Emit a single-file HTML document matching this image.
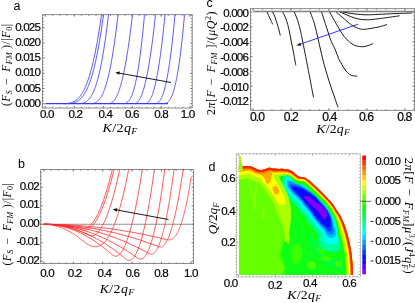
<!DOCTYPE html>
<html><head><meta charset="utf-8"><title>figure</title>
<style>html,body{margin:0;padding:0;background:#fff;overflow:hidden;}svg{display:block;will-change:transform;transform:translateZ(0);}</style>
</head><body>
<svg width="415" height="303" viewBox="0 0 415 303">
<rect width="415" height="303" fill="#fff"/>
<rect x="42.6" y="14.7" width="149.6" height="93.3" fill="none" stroke="#6e6e6e" stroke-width="0.8"/>
<path d="M45.4 108 v-2.2M45.4 14.7 v2.2M74.32 108 v-2.2M74.32 14.7 v2.2M103.24 108 v-2.2M103.24 14.7 v2.2M132.16 108 v-2.2M132.16 14.7 v2.2M161.08 108 v-2.2M161.08 14.7 v2.2M190 108 v-2.2M190 14.7 v2.2M45.4 108 v-1.3M45.4 14.7 v1.3M52.63 108 v-1.3M52.63 14.7 v1.3M59.86 108 v-1.3M59.86 14.7 v1.3M67.09 108 v-1.3M67.09 14.7 v1.3M74.32 108 v-1.3M74.32 14.7 v1.3M81.55 108 v-1.3M81.55 14.7 v1.3M88.78 108 v-1.3M88.78 14.7 v1.3M96.01 108 v-1.3M96.01 14.7 v1.3M103.24 108 v-1.3M103.24 14.7 v1.3M110.47 108 v-1.3M110.47 14.7 v1.3M117.7 108 v-1.3M117.7 14.7 v1.3M124.93 108 v-1.3M124.93 14.7 v1.3M132.16 108 v-1.3M132.16 14.7 v1.3M139.39 108 v-1.3M139.39 14.7 v1.3M146.62 108 v-1.3M146.62 14.7 v1.3M153.85 108 v-1.3M153.85 14.7 v1.3M161.08 108 v-1.3M161.08 14.7 v1.3M168.31 108 v-1.3M168.31 14.7 v1.3M175.54 108 v-1.3M175.54 14.7 v1.3M182.77 108 v-1.3M182.77 14.7 v1.3M190 108 v-1.3M190 14.7 v1.3M42.6 103.7 h2.2M192.2 103.7 h-2.2M42.6 88.5 h2.2M192.2 88.5 h-2.2M42.6 73.3 h2.2M192.2 73.3 h-2.2M42.6 58.1 h2.2M192.2 58.1 h-2.2M42.6 42.9 h2.2M192.2 42.9 h-2.2M42.6 27.7 h2.2M192.2 27.7 h-2.2M42.6 106.74 h1.3M192.2 106.74 h-1.3M42.6 103.7 h1.3M192.2 103.7 h-1.3M42.6 100.66 h1.3M192.2 100.66 h-1.3M42.6 97.62 h1.3M192.2 97.62 h-1.3M42.6 94.58 h1.3M192.2 94.58 h-1.3M42.6 91.54 h1.3M192.2 91.54 h-1.3M42.6 88.5 h1.3M192.2 88.5 h-1.3M42.6 85.46 h1.3M192.2 85.46 h-1.3M42.6 82.42 h1.3M192.2 82.42 h-1.3M42.6 79.38 h1.3M192.2 79.38 h-1.3M42.6 76.34 h1.3M192.2 76.34 h-1.3M42.6 73.3 h1.3M192.2 73.3 h-1.3M42.6 70.26 h1.3M192.2 70.26 h-1.3M42.6 67.22 h1.3M192.2 67.22 h-1.3M42.6 64.18 h1.3M192.2 64.18 h-1.3M42.6 61.14 h1.3M192.2 61.14 h-1.3M42.6 58.1 h1.3M192.2 58.1 h-1.3M42.6 55.06 h1.3M192.2 55.06 h-1.3M42.6 52.02 h1.3M192.2 52.02 h-1.3M42.6 48.98 h1.3M192.2 48.98 h-1.3M42.6 45.94 h1.3M192.2 45.94 h-1.3M42.6 42.9 h1.3M192.2 42.9 h-1.3M42.6 39.86 h1.3M192.2 39.86 h-1.3M42.6 36.82 h1.3M192.2 36.82 h-1.3M42.6 33.78 h1.3M192.2 33.78 h-1.3M42.6 30.74 h1.3M192.2 30.74 h-1.3M42.6 27.7 h1.3M192.2 27.7 h-1.3M42.6 24.66 h1.3M192.2 24.66 h-1.3M42.6 21.62 h1.3M192.2 21.62 h-1.3M42.6 18.58 h1.3M192.2 18.58 h-1.3M42.6 15.54 h1.3M192.2 15.54 h-1.3" fill="none" stroke="#6e6e6e" stroke-width="0.7"/>
<text x="40" y="106.7" font-family="Liberation Sans, sans-serif" font-size="11.6" text-anchor="end" letter-spacing="-0.85" fill="#000" stroke="#000" stroke-width="0.18">0.000</text>
<text x="40" y="91.5" font-family="Liberation Sans, sans-serif" font-size="11.6" text-anchor="end" letter-spacing="-0.85" fill="#000" stroke="#000" stroke-width="0.18">0.005</text>
<text x="40" y="76.3" font-family="Liberation Sans, sans-serif" font-size="11.6" text-anchor="end" letter-spacing="-0.85" fill="#000" stroke="#000" stroke-width="0.18">0.010</text>
<text x="40" y="61.1" font-family="Liberation Sans, sans-serif" font-size="11.6" text-anchor="end" letter-spacing="-0.85" fill="#000" stroke="#000" stroke-width="0.18">0.015</text>
<text x="40" y="45.9" font-family="Liberation Sans, sans-serif" font-size="11.6" text-anchor="end" letter-spacing="-0.85" fill="#000" stroke="#000" stroke-width="0.18">0.020</text>
<text x="40" y="30.7" font-family="Liberation Sans, sans-serif" font-size="11.6" text-anchor="end" letter-spacing="-0.85" fill="#000" stroke="#000" stroke-width="0.18">0.025</text>
<text x="46.7" y="118.2" font-family="Liberation Sans, sans-serif" font-size="11.6" text-anchor="middle" letter-spacing="-0.85" fill="#000" stroke="#000" stroke-width="0.18">0.0</text>
<text x="75.3" y="118.2" font-family="Liberation Sans, sans-serif" font-size="11.6" text-anchor="middle" letter-spacing="-0.85" fill="#000" stroke="#000" stroke-width="0.18">0.2</text>
<text x="105.2" y="118.2" font-family="Liberation Sans, sans-serif" font-size="11.6" text-anchor="middle" letter-spacing="-0.85" fill="#000" stroke="#000" stroke-width="0.18">0.4</text>
<text x="131.8" y="118.2" font-family="Liberation Sans, sans-serif" font-size="11.6" text-anchor="middle" letter-spacing="-0.85" fill="#000" stroke="#000" stroke-width="0.18">0.6</text>
<text x="161" y="118.2" font-family="Liberation Sans, sans-serif" font-size="11.6" text-anchor="middle" letter-spacing="-0.85" fill="#000" stroke="#000" stroke-width="0.18">0.8</text>
<text x="187.6" y="118.2" font-family="Liberation Sans, sans-serif" font-size="11.6" text-anchor="middle" letter-spacing="-0.85" fill="#000" stroke="#000" stroke-width="0.18">1.0</text>
<text x="13.6" y="9.6" font-family="Liberation Sans, sans-serif" font-size="12.5" fill="#000">a</text>
<text transform="translate(120.1,132) scale(1.1,1)" font-family="Liberation Serif, serif" font-size="12.8" text-anchor="middle" letter-spacing="0.35" fill="#000"><tspan font-style="italic">K</tspan>/2<tspan font-style="italic">q</tspan><tspan font-style="italic" font-size="8.96" dy="2.2">F</tspan></text>
<text transform="translate(9.5,64.8) rotate(-90)" font-family="Liberation Serif, serif" font-size="11.5" text-anchor="middle" letter-spacing="0.4" fill="#000">(<tspan font-style="italic">F</tspan><tspan font-style="italic" font-size="8" dy="2">S</tspan><tspan dy="-2" letter-spacing="2"> − </tspan><tspan font-style="italic">F</tspan><tspan font-style="italic" font-size="8" dy="2">FM</tspan><tspan dy="-2"> )/|</tspan><tspan font-style="italic">F</tspan><tspan font-size="8" dy="2">0</tspan><tspan dy="-2">|</tspan></text>
<clipPath id="ca"><rect x="42.6" y="14.7" width="149.6" height="93.3"/></clipPath>
<g clip-path="url(#ca)" fill="none" stroke="#3a3aff" stroke-width="0.85">
<path d="M62 103.6 L62.54 103.6 L63.08 103.6 L63.61 103.6 L64.15 103.59 L64.69 103.58 L65.23 103.57 L65.77 103.55 L66.3 103.53 L66.84 103.49 L67.38 103.45 L67.92 103.39 L68.46 103.33 L68.99 103.25 L69.53 103.15 L70.07 103.04 L70.61 102.91 L71.15 102.77 L71.68 102.6 L72.22 102.41 L72.76 102.2 L73.3 101.97 L73.84 101.7 L74.37 101.42 L74.91 101.1 L75.45 100.75 L75.99 100.37 L76.53 99.95 L77.06 99.51 L77.6 99.02 L78.14 98.5 L78.68 97.93 L79.22 97.33 L79.75 96.68 L80.29 95.99 L80.83 95.25 L81.37 94.47 L81.91 93.63 L82.44 92.75 L82.98 91.81 L83.52 90.81 L84.06 89.77 L84.59 88.66 L85.13 87.49 L85.67 86.27 L86.21 84.98 L86.75 83.62 L87.28 82.2 L87.82 80.72 L88.36 79.16 L88.9 77.53 L89.44 75.83 L89.97 74.05 L90.51 72.2 L91.05 70.27 L91.59 68.26 L92.13 66.17 L92.66 63.99 L93.2 61.73 L93.74 59.38 L94.28 56.94 L94.82 54.41 L95.35 51.79 L95.89 49.07 L96.43 46.26 L96.97 43.35 L97.51 40.34 L98.04 37.23 L98.58 34.02 L99.12 30.7 L99.66 27.27 L100.2 23.73 L100.73 20.09 L101.27 16.33 L101.81 12.45 L102.35 8.46 L102.89 4.35 L103.42 0.12 L103.96 -4.23 L104.5 -8.71"/>
<path d="M65 103.6 L65.53 103.6 L66.05 103.6 L66.58 103.6 L67.1 103.59 L67.63 103.59 L68.15 103.57 L68.68 103.56 L69.2 103.53 L69.73 103.5 L70.25 103.46 L70.78 103.41 L71.3 103.35 L71.83 103.27 L72.35 103.18 L72.88 103.08 L73.41 102.96 L73.93 102.82 L74.46 102.66 L74.98 102.48 L75.51 102.28 L76.03 102.05 L76.56 101.8 L77.08 101.52 L77.61 101.21 L78.13 100.87 L78.66 100.5 L79.18 100.1 L79.71 99.66 L80.23 99.19 L80.76 98.68 L81.28 98.13 L81.81 97.53 L82.34 96.9 L82.86 96.22 L83.39 95.49 L83.91 94.72 L84.44 93.89 L84.96 93.01 L85.49 92.09 L86.01 91.1 L86.54 90.06 L87.06 88.96 L87.59 87.8 L88.11 86.58 L88.64 85.29 L89.16 83.94 L89.69 82.52 L90.22 81.04 L90.74 79.48 L91.27 77.85 L91.79 76.14 L92.32 74.36 L92.84 72.49 L93.37 70.55 L93.89 68.53 L94.42 66.42 L94.94 64.22 L95.47 61.94 L95.99 59.57 L96.52 57.11 L97.04 54.55 L97.57 51.9 L98.09 49.14 L98.62 46.29 L99.15 43.34 L99.67 40.29 L100.2 37.12 L100.72 33.86 L101.25 30.48 L101.77 26.99 L102.3 23.39 L102.82 19.67 L103.35 15.83 L103.87 11.88 L104.4 7.8 L104.92 3.6 L105.45 -0.73 L105.97 -5.18 L106.5 -9.77"/>
<path d="M77.4 103.6 L77.83 103.6 L78.26 103.6 L78.69 103.59 L79.13 103.59 L79.56 103.57 L79.99 103.55 L80.42 103.53 L80.85 103.49 L81.28 103.44 L81.72 103.38 L82.15 103.31 L82.58 103.22 L83.01 103.11 L83.44 102.99 L83.87 102.85 L84.31 102.68 L84.74 102.5 L85.17 102.29 L85.6 102.05 L86.03 101.79 L86.46 101.5 L86.9 101.18 L87.33 100.83 L87.76 100.45 L88.19 100.04 L88.62 99.58 L89.05 99.1 L89.49 98.57 L89.92 98 L90.35 97.4 L90.78 96.75 L91.21 96.05 L91.64 95.31 L92.08 94.53 L92.51 93.69 L92.94 92.8 L93.37 91.87 L93.8 90.88 L94.23 89.83 L94.67 88.73 L95.1 87.57 L95.53 86.35 L95.96 85.08 L96.39 83.74 L96.82 82.33 L97.26 80.86 L97.69 79.33 L98.12 77.72 L98.55 76.05 L98.98 74.31 L99.41 72.49 L99.85 70.6 L100.28 68.63 L100.71 66.59 L101.14 64.47 L101.57 62.26 L102 59.98 L102.44 57.61 L102.87 55.16 L103.3 52.62 L103.73 50 L104.16 47.28 L104.59 44.48 L105.03 41.58 L105.46 38.59 L105.89 35.5 L106.32 32.31 L106.75 29.03 L107.18 25.65 L107.62 22.16 L108.05 18.58 L108.48 14.89 L108.91 11.09 L109.34 7.18 L109.77 3.17 L110.21 -0.95 L110.64 -5.19 L111.07 -9.54 L111.5 -14.01"/>
<path d="M90 103.6 L90.39 103.6 L90.78 103.6 L91.18 103.59 L91.57 103.57 L91.96 103.55 L92.35 103.51 L92.75 103.46 L93.14 103.4 L93.53 103.33 L93.92 103.23 L94.32 103.12 L94.71 102.99 L95.1 102.84 L95.49 102.66 L95.89 102.46 L96.28 102.24 L96.67 101.99 L97.06 101.71 L97.46 101.4 L97.85 101.06 L98.24 100.69 L98.63 100.28 L99.03 99.85 L99.42 99.37 L99.81 98.86 L100.2 98.31 L100.59 97.72 L100.99 97.09 L101.38 96.42 L101.77 95.71 L102.16 94.95 L102.56 94.15 L102.95 93.3 L103.34 92.4 L103.73 91.46 L104.13 90.47 L104.52 89.42 L104.91 88.32 L105.3 87.17 L105.7 85.97 L106.09 84.71 L106.48 83.39 L106.87 82.02 L107.27 80.59 L107.66 79.09 L108.05 77.54 L108.44 75.93 L108.84 74.25 L109.23 72.51 L109.62 70.7 L110.01 68.83 L110.41 66.89 L110.8 64.88 L111.19 62.8 L111.58 60.66 L111.97 58.44 L112.37 56.15 L112.76 53.79 L113.15 51.35 L113.54 48.83 L113.94 46.24 L114.33 43.58 L114.72 40.83 L115.11 38.01 L115.51 35.1 L115.9 32.12 L116.29 29.05 L116.68 25.9 L117.08 22.66 L117.47 19.34 L117.86 15.93 L118.25 12.44 L118.65 8.85 L119.04 5.18 L119.43 1.42 L119.82 -2.44 L120.22 -6.38 L120.61 -10.42 L121 -14.56"/>
<path d="M108.3 103.6 L108.64 103.6 L108.99 103.58 L109.33 103.55 L109.68 103.5 L110.02 103.43 L110.37 103.33 L110.71 103.22 L111.05 103.08 L111.4 102.91 L111.74 102.71 L112.09 102.49 L112.43 102.24 L112.78 101.95 L113.12 101.64 L113.46 101.29 L113.81 100.91 L114.15 100.49 L114.5 100.04 L114.84 99.56 L115.19 99.04 L115.53 98.48 L115.87 97.88 L116.22 97.25 L116.56 96.58 L116.91 95.87 L117.25 95.12 L117.6 94.33 L117.94 93.5 L118.28 92.62 L118.63 91.71 L118.97 90.75 L119.32 89.75 L119.66 88.7 L120.01 87.61 L120.35 86.48 L120.69 85.3 L121.04 84.08 L121.38 82.81 L121.73 81.49 L122.07 80.13 L122.42 78.72 L122.76 77.26 L123.11 75.76 L123.45 74.2 L123.79 72.6 L124.14 70.95 L124.48 69.25 L124.83 67.49 L125.17 65.69 L125.52 63.84 L125.86 61.93 L126.2 59.98 L126.55 57.97 L126.89 55.91 L127.24 53.8 L127.58 51.63 L127.93 49.41 L128.27 47.14 L128.61 44.81 L128.96 42.43 L129.3 39.99 L129.65 37.5 L129.99 34.96 L130.34 32.35 L130.68 29.7 L131.02 26.98 L131.37 24.21 L131.71 21.38 L132.06 18.5 L132.4 15.55 L132.75 12.55 L133.09 9.5 L133.43 6.38 L133.78 3.2 L134.12 -0.03 L134.47 -3.33 L134.81 -6.68 L135.16 -10.1 L135.5 -13.57"/>
<path d="M122.6 103.6 L122.92 103.6 L123.23 103.59 L123.55 103.58 L123.86 103.57 L124.18 103.54 L124.49 103.49 L124.81 103.44 L125.12 103.37 L125.44 103.28 L125.75 103.17 L126.07 103.04 L126.38 102.89 L126.7 102.71 L127.01 102.51 L127.33 102.29 L127.64 102.03 L127.96 101.75 L128.27 101.43 L128.59 101.08 L128.9 100.7 L129.22 100.29 L129.53 99.83 L129.85 99.34 L130.16 98.82 L130.48 98.25 L130.79 97.64 L131.11 96.99 L131.43 96.29 L131.74 95.55 L132.06 94.76 L132.37 93.93 L132.69 93.05 L133 92.12 L133.32 91.14 L133.63 90.1 L133.95 89.02 L134.26 87.87 L134.58 86.68 L134.89 85.43 L135.21 84.12 L135.52 82.75 L135.84 81.32 L136.15 79.83 L136.47 78.28 L136.78 76.67 L137.1 74.99 L137.41 73.25 L137.73 71.44 L138.04 69.56 L138.36 67.62 L138.67 65.61 L138.99 63.52 L139.31 61.37 L139.62 59.14 L139.94 56.84 L140.25 54.47 L140.57 52.02 L140.88 49.49 L141.2 46.89 L141.51 44.21 L141.83 41.45 L142.14 38.6 L142.46 35.68 L142.77 32.68 L143.09 29.59 L143.4 26.42 L143.72 23.16 L144.03 19.82 L144.35 16.38 L144.66 12.87 L144.98 9.26 L145.29 5.56 L145.61 1.77 L145.92 -2.11 L146.24 -6.08 L146.55 -10.15 L146.87 -14.31 L147.18 -18.57 L147.5 -22.92"/>
<path d="M134 103.6 L134.31 103.59 L134.62 103.57 L134.93 103.53 L135.24 103.46 L135.55 103.37 L135.86 103.25 L136.17 103.11 L136.48 102.93 L136.79 102.73 L137.1 102.5 L137.41 102.23 L137.72 101.93 L138.03 101.6 L138.34 101.23 L138.65 100.83 L138.96 100.39 L139.27 99.92 L139.58 99.41 L139.89 98.87 L140.2 98.29 L140.51 97.66 L140.82 97 L141.13 96.3 L141.44 95.57 L141.75 94.79 L142.06 93.97 L142.37 93.11 L142.68 92.21 L142.99 91.26 L143.3 90.28 L143.61 89.25 L143.92 88.18 L144.23 87.07 L144.54 85.91 L144.85 84.71 L145.16 83.46 L145.47 82.17 L145.78 80.84 L146.09 79.46 L146.41 78.03 L146.72 76.56 L147.03 75.05 L147.34 73.48 L147.65 71.87 L147.96 70.21 L148.27 68.51 L148.58 66.76 L148.89 64.95 L149.2 63.11 L149.51 61.21 L149.82 59.26 L150.13 57.27 L150.44 55.23 L150.75 53.13 L151.06 50.99 L151.37 48.8 L151.68 46.55 L151.99 44.26 L152.3 41.92 L152.61 39.52 L152.92 37.08 L153.23 34.58 L153.54 32.03 L153.85 29.43 L154.16 26.78 L154.47 24.07 L154.78 21.32 L155.09 18.51 L155.4 15.65 L155.71 12.73 L156.02 9.76 L156.33 6.74 L156.64 3.67 L156.95 0.54 L157.26 -2.65 L157.57 -5.88 L157.88 -9.18 L158.19 -12.52 L158.5 -15.92"/>
<path d="M144.7 103.6 L144.99 103.6 L145.29 103.58 L145.58 103.54 L145.88 103.49 L146.17 103.41 L146.47 103.32 L146.76 103.19 L147.06 103.04 L147.35 102.86 L147.65 102.65 L147.94 102.42 L148.24 102.15 L148.53 101.84 L148.83 101.51 L149.12 101.14 L149.42 100.74 L149.71 100.3 L150.01 99.82 L150.3 99.31 L150.6 98.76 L150.89 98.17 L151.19 97.54 L151.48 96.87 L151.78 96.16 L152.07 95.41 L152.37 94.62 L152.66 93.78 L152.96 92.91 L153.25 91.98 L153.55 91.02 L153.84 90.01 L154.14 88.95 L154.43 87.85 L154.73 86.71 L155.02 85.51 L155.32 84.27 L155.61 82.99 L155.91 81.65 L156.2 80.27 L156.5 78.83 L156.79 77.35 L157.09 75.82 L157.38 74.23 L157.68 72.6 L157.97 70.92 L158.27 69.18 L158.56 67.39 L158.86 65.55 L159.15 63.66 L159.45 61.71 L159.74 59.71 L160.04 57.66 L160.33 55.55 L160.63 53.39 L160.92 51.17 L161.22 48.9 L161.51 46.57 L161.81 44.19 L162.1 41.75 L162.4 39.25 L162.69 36.7 L162.99 34.09 L163.28 31.42 L163.58 28.69 L163.87 25.91 L164.17 23.06 L164.46 20.16 L164.76 17.2 L165.05 14.18 L165.35 11.1 L165.64 7.95 L165.94 4.75 L166.23 1.49 L166.53 -1.84 L166.82 -5.22 L167.12 -8.67 L167.41 -12.18 L167.71 -15.75 L168 -19.39"/>
<path d="M154.4 103.6 L154.7 103.6 L155 103.59 L155.3 103.57 L155.59 103.54 L155.89 103.49 L156.19 103.43 L156.49 103.35 L156.79 103.24 L157.09 103.12 L157.39 102.97 L157.69 102.79 L157.98 102.59 L158.28 102.36 L158.58 102.11 L158.88 101.82 L159.18 101.5 L159.48 101.14 L159.78 100.75 L160.08 100.33 L160.37 99.87 L160.67 99.38 L160.97 98.84 L161.27 98.27 L161.57 97.65 L161.87 97 L162.17 96.3 L162.47 95.56 L162.76 94.77 L163.06 93.94 L163.36 93.07 L163.66 92.14 L163.96 91.17 L164.26 90.15 L164.56 89.08 L164.86 87.96 L165.15 86.79 L165.45 85.57 L165.75 84.29 L166.05 82.96 L166.35 81.58 L166.65 80.14 L166.95 78.65 L167.25 77.1 L167.54 75.49 L167.84 73.82 L168.14 72.1 L168.44 70.31 L168.74 68.47 L169.04 66.56 L169.34 64.59 L169.64 62.56 L169.93 60.47 L170.23 58.31 L170.53 56.09 L170.83 53.8 L171.13 51.45 L171.43 49.03 L171.73 46.54 L172.03 43.99 L172.32 41.36 L172.62 38.67 L172.92 35.91 L173.22 33.08 L173.52 30.17 L173.82 27.19 L174.12 24.15 L174.42 21.02 L174.71 17.83 L175.01 14.56 L175.31 11.22 L175.61 7.8 L175.91 4.3 L176.21 0.73 L176.51 -2.92 L176.81 -6.65 L177.1 -10.46 L177.4 -14.34 L177.7 -18.31 L178 -22.35"/>
<path d="M163 103.6 L163.31 103.6 L163.62 103.59 L163.93 103.58 L164.24 103.57 L164.55 103.54 L164.86 103.49 L165.17 103.44 L165.48 103.37 L165.79 103.28 L166.1 103.17 L166.41 103.04 L166.72 102.89 L167.03 102.72 L167.34 102.52 L167.65 102.29 L167.96 102.03 L168.27 101.75 L168.58 101.43 L168.89 101.09 L169.2 100.7 L169.51 100.29 L169.82 99.83 L170.13 99.34 L170.44 98.81 L170.75 98.24 L171.06 97.63 L171.37 96.98 L171.68 96.28 L171.99 95.54 L172.3 94.75 L172.61 93.92 L172.92 93.03 L173.23 92.09 L173.54 91.11 L173.85 90.07 L174.16 88.98 L174.47 87.83 L174.78 86.63 L175.09 85.37 L175.41 84.06 L175.72 82.68 L176.03 81.24 L176.34 79.75 L176.65 78.19 L176.96 76.57 L177.27 74.88 L177.58 73.13 L177.89 71.31 L178.2 69.42 L178.51 67.46 L178.82 65.44 L179.13 63.34 L179.44 61.17 L179.75 58.93 L180.06 56.61 L180.37 54.22 L180.68 51.76 L180.99 49.21 L181.3 46.59 L181.61 43.89 L181.92 41.11 L182.23 38.24 L182.54 35.3 L182.85 32.27 L183.16 29.16 L183.47 25.96 L183.78 22.68 L184.09 19.31 L184.4 15.85 L184.71 12.3 L185.02 8.66 L185.33 4.93 L185.64 1.11 L185.95 -2.8 L186.26 -6.81 L186.57 -10.91 L186.88 -15.11 L187.19 -19.4 L187.5 -23.8"/>
<path d="M45.4 103.6 H168" stroke-width="1.2"/>
</g>
<path d="M171 82.5 L119.63 73.2" stroke="#000" stroke-width="0.9" fill="none"/>
<path d="M115.2 72.4 L119.93 71.53 L119.33 74.87 Z" fill="#000"/>
<rect x="40.7" y="169.6" width="152.9" height="94" fill="none" stroke="#6e6e6e" stroke-width="0.8"/>
<path d="M43.9 263.6 v-2.2M43.9 169.6 v2.2M73.3 263.6 v-2.2M73.3 169.6 v2.2M102.7 263.6 v-2.2M102.7 169.6 v2.2M132.1 263.6 v-2.2M132.1 169.6 v2.2M161.5 263.6 v-2.2M161.5 169.6 v2.2M190.9 263.6 v-2.2M190.9 169.6 v2.2M43.9 263.6 v-1.3M43.9 169.6 v1.3M51.25 263.6 v-1.3M51.25 169.6 v1.3M58.6 263.6 v-1.3M58.6 169.6 v1.3M65.95 263.6 v-1.3M65.95 169.6 v1.3M73.3 263.6 v-1.3M73.3 169.6 v1.3M80.65 263.6 v-1.3M80.65 169.6 v1.3M88 263.6 v-1.3M88 169.6 v1.3M95.35 263.6 v-1.3M95.35 169.6 v1.3M102.7 263.6 v-1.3M102.7 169.6 v1.3M110.05 263.6 v-1.3M110.05 169.6 v1.3M117.4 263.6 v-1.3M117.4 169.6 v1.3M124.75 263.6 v-1.3M124.75 169.6 v1.3M132.1 263.6 v-1.3M132.1 169.6 v1.3M139.45 263.6 v-1.3M139.45 169.6 v1.3M146.8 263.6 v-1.3M146.8 169.6 v1.3M154.15 263.6 v-1.3M154.15 169.6 v1.3M161.5 263.6 v-1.3M161.5 169.6 v1.3M168.85 263.6 v-1.3M168.85 169.6 v1.3M176.2 263.6 v-1.3M176.2 169.6 v1.3M183.55 263.6 v-1.3M183.55 169.6 v1.3M190.9 263.6 v-1.3M190.9 169.6 v1.3M40.7 261.25 h2.2M193.6 261.25 h-2.2M40.7 242.75 h2.2M193.6 242.75 h-2.2M40.7 224.25 h2.2M193.6 224.25 h-2.2M40.7 205.75 h2.2M193.6 205.75 h-2.2M40.7 187.25 h2.2M193.6 187.25 h-2.2M40.7 261.25 h1.3M193.6 261.25 h-1.3M40.7 257.55 h1.3M193.6 257.55 h-1.3M40.7 253.85 h1.3M193.6 253.85 h-1.3M40.7 250.15 h1.3M193.6 250.15 h-1.3M40.7 246.45 h1.3M193.6 246.45 h-1.3M40.7 242.75 h1.3M193.6 242.75 h-1.3M40.7 239.05 h1.3M193.6 239.05 h-1.3M40.7 235.35 h1.3M193.6 235.35 h-1.3M40.7 231.65 h1.3M193.6 231.65 h-1.3M40.7 227.95 h1.3M193.6 227.95 h-1.3M40.7 224.25 h1.3M193.6 224.25 h-1.3M40.7 220.55 h1.3M193.6 220.55 h-1.3M40.7 216.85 h1.3M193.6 216.85 h-1.3M40.7 213.15 h1.3M193.6 213.15 h-1.3M40.7 209.45 h1.3M193.6 209.45 h-1.3M40.7 205.75 h1.3M193.6 205.75 h-1.3M40.7 202.05 h1.3M193.6 202.05 h-1.3M40.7 198.35 h1.3M193.6 198.35 h-1.3M40.7 194.65 h1.3M193.6 194.65 h-1.3M40.7 190.95 h1.3M193.6 190.95 h-1.3M40.7 187.25 h1.3M193.6 187.25 h-1.3M40.7 183.55 h1.3M193.6 183.55 h-1.3M40.7 179.85 h1.3M193.6 179.85 h-1.3M40.7 176.15 h1.3M193.6 176.15 h-1.3M40.7 172.45 h1.3M193.6 172.45 h-1.3" fill="none" stroke="#6e6e6e" stroke-width="0.7"/>
<path d="M40.7 224.25 H193.6" stroke="#777" stroke-width="0.8"/>
<text x="38.8" y="263.95" font-family="Liberation Sans, sans-serif" font-size="11.6" text-anchor="end" letter-spacing="-0.85" fill="#000" stroke="#000" stroke-width="0.18">-0.02</text>
<text x="38.8" y="245.45" font-family="Liberation Sans, sans-serif" font-size="11.6" text-anchor="end" letter-spacing="-0.85" fill="#000" stroke="#000" stroke-width="0.18">-0.01</text>
<text x="38.8" y="226.95" font-family="Liberation Sans, sans-serif" font-size="11.6" text-anchor="end" letter-spacing="-0.85" fill="#000" stroke="#000" stroke-width="0.18">0.00</text>
<text x="38.8" y="208.45" font-family="Liberation Sans, sans-serif" font-size="11.6" text-anchor="end" letter-spacing="-0.85" fill="#000" stroke="#000" stroke-width="0.18">0.01</text>
<text x="38.8" y="189.95" font-family="Liberation Sans, sans-serif" font-size="11.6" text-anchor="end" letter-spacing="-0.85" fill="#000" stroke="#000" stroke-width="0.18">0.02</text>
<text x="47" y="276.6" font-family="Liberation Sans, sans-serif" font-size="11.6" text-anchor="middle" letter-spacing="-0.85" fill="#000" stroke="#000" stroke-width="0.18">0.0</text>
<text x="74.6" y="276.6" font-family="Liberation Sans, sans-serif" font-size="11.6" text-anchor="middle" letter-spacing="-0.85" fill="#000" stroke="#000" stroke-width="0.18">0.2</text>
<text x="104.4" y="276.6" font-family="Liberation Sans, sans-serif" font-size="11.6" text-anchor="middle" letter-spacing="-0.85" fill="#000" stroke="#000" stroke-width="0.18">0.4</text>
<text x="132.3" y="276.6" font-family="Liberation Sans, sans-serif" font-size="11.6" text-anchor="middle" letter-spacing="-0.85" fill="#000" stroke="#000" stroke-width="0.18">0.6</text>
<text x="161" y="276.6" font-family="Liberation Sans, sans-serif" font-size="11.6" text-anchor="middle" letter-spacing="-0.85" fill="#000" stroke="#000" stroke-width="0.18">0.8</text>
<text x="190.8" y="276.6" font-family="Liberation Sans, sans-serif" font-size="11.6" text-anchor="middle" letter-spacing="-0.85" fill="#000" stroke="#000" stroke-width="0.18">1.0</text>
<text x="18" y="167.6" font-family="Liberation Sans, sans-serif" font-size="12.5" fill="#000">b</text>
<text transform="translate(117.2,292.6) scale(1.1,1)" font-family="Liberation Serif, serif" font-size="12.6" text-anchor="middle" letter-spacing="0.4" fill="#000"><tspan font-style="italic">K</tspan>/2<tspan font-style="italic">q</tspan><tspan font-style="italic" font-size="8.82" dy="2.2">F</tspan></text>
<text transform="translate(10.9,224.2) rotate(-90)" font-family="Liberation Serif, serif" font-size="11.5" text-anchor="middle" letter-spacing="0.4" fill="#000">(<tspan font-style="italic">F</tspan><tspan font-style="italic" font-size="8" dy="2">S</tspan><tspan dy="-2" letter-spacing="2"> − </tspan><tspan font-style="italic">F</tspan><tspan font-style="italic" font-size="8" dy="2">FM</tspan><tspan dy="-2"> )/|</tspan><tspan font-style="italic">F</tspan><tspan font-size="8" dy="2">0</tspan><tspan dy="-2">|</tspan></text>
<clipPath id="cb"><rect x="40.7" y="169.6" width="152.9" height="94"/></clipPath>
<g clip-path="url(#cb)" fill="none" stroke="#ff2a2a" stroke-width="0.8">
<path d="M43.9 224.3 L44.88 224.3 L45.86 224.31 L46.85 224.32 L47.83 224.34 L48.81 224.37 L49.79 224.39 L50.77 224.43 L51.76 224.47 L52.74 224.51 L53.72 224.56 L54.7 224.62 L55.68 224.68 L56.66 224.75 L57.65 224.82 L58.63 224.89 L59.61 224.97 L60.59 225.06 L61.57 225.15 L62.56 225.25 L63.54 225.35 L64.52 225.46 L65.5 225.58 L66.48 225.69 L67.47 225.82 L68.45 225.95 L69.43 226.08 L70.41 226.22 L71.39 226.37 L72.37 226.52 L73.36 226.67 L74.34 226.83 L75.32 227 L76.3 227.17 L77.28 227.35 L78.27 227.53 L79.25 227.71 L80.23 227.91 L81.21 228.1 L82.19 228.31 L82.88 228.42 L83.56 228.46 L84.25 228.43 L84.94 228.34 L85.62 228.18 L86.31 227.96 L86.99 227.66 L87.68 227.3 L88.36 226.87 L89.05 226.38 L89.73 225.81 L90.42 225.18 L91.11 224.48 L91.79 223.72 L92.48 222.89 L93.16 221.99 L93.85 221.02 L94.53 219.98 L95.22 218.88 L95.9 217.71 L96.59 216.48 L97.28 215.17 L97.96 213.8 L98.65 212.36 L99.33 210.86 L100.02 209.28 L100.7 207.64 L101.39 205.94 L102.07 204.16 L102.76 202.32 L103.45 200.41 L104.13 198.43 L104.82 196.39 L105.5 194.27 L106.19 192.1 L106.87 189.85 L107.56 187.54 L108.24 185.15 L108.93 182.71 L109.62 180.19 L110.3 177.61 L110.99 174.96 L111.67 172.24 L112.36 169.45 L113.04 166.6 L113.73 163.68 L114.41 160.7"/>
<path d="M43.9 224.3 L44.88 224.3 L45.87 224.31 L46.85 224.33 L47.83 224.36 L48.81 224.39 L49.8 224.43 L50.78 224.48 L51.76 224.54 L52.74 224.6 L53.73 224.67 L54.71 224.75 L55.69 224.83 L56.67 224.92 L57.66 225.02 L58.64 225.13 L59.62 225.25 L60.6 225.37 L61.59 225.5 L62.57 225.63 L63.55 225.78 L64.54 225.93 L65.52 226.09 L66.5 226.25 L67.48 226.43 L68.47 226.61 L69.45 226.8 L70.43 226.99 L71.41 227.2 L72.4 227.41 L73.38 227.63 L74.36 227.85 L75.34 228.08 L76.33 228.32 L77.31 228.57 L78.29 228.83 L79.27 229.09 L80.26 229.36 L81.24 229.64 L82.22 229.92 L82.91 230.09 L83.59 230.19 L84.28 230.23 L84.96 230.21 L85.65 230.12 L86.34 229.96 L87.02 229.75 L87.71 229.46 L88.39 229.12 L89.08 228.7 L89.76 228.23 L90.45 227.69 L91.13 227.08 L91.82 226.41 L92.5 225.68 L93.19 224.88 L93.87 224.01 L94.56 223.08 L95.24 222.09 L95.93 221.03 L96.62 219.91 L97.3 218.73 L97.99 217.48 L98.67 216.16 L99.36 214.78 L100.04 213.34 L100.73 211.83 L101.41 210.25 L102.1 208.62 L102.78 206.91 L103.47 205.15 L104.15 203.31 L104.84 201.42 L105.52 199.46 L106.21 197.43 L106.9 195.34 L107.58 193.19 L108.27 190.97 L108.95 188.69 L109.64 186.34 L110.32 183.93 L111.01 181.45 L111.69 178.91 L112.38 176.3 L113.06 173.63 L113.75 170.9 L114.43 168.1 L115.12 165.23 L115.81 162.31"/>
<path d="M43.9 224.3 L45.04 224.31 L46.19 224.33 L47.33 224.36 L48.48 224.41 L49.62 224.48 L50.77 224.56 L51.91 224.65 L53.06 224.76 L54.2 224.88 L55.35 225.01 L56.49 225.16 L57.64 225.32 L58.78 225.5 L59.93 225.7 L61.07 225.9 L62.22 226.12 L63.36 226.36 L64.5 226.61 L65.65 226.87 L66.79 227.15 L67.94 227.44 L69.08 227.75 L70.23 228.07 L71.37 228.4 L72.52 228.75 L73.66 229.11 L74.81 229.49 L75.95 229.88 L77.1 230.29 L78.24 230.71 L79.39 231.14 L80.53 231.59 L81.68 232.05 L82.82 232.53 L83.97 233.02 L85.11 233.52 L86.25 234.04 L87.4 234.58 L88.54 235.13 L89.19 235.4 L89.84 235.61 L90.48 235.75 L91.13 235.82 L91.77 235.82 L92.42 235.76 L93.06 235.62 L93.71 235.41 L94.35 235.13 L95 234.79 L95.65 234.37 L96.29 233.88 L96.94 233.33 L97.58 232.71 L98.23 232.01 L98.87 231.25 L99.52 230.42 L100.16 229.51 L100.81 228.54 L101.46 227.5 L102.1 226.39 L102.75 225.21 L103.39 223.96 L104.04 222.65 L104.68 221.26 L105.33 219.8 L105.98 218.27 L106.62 216.68 L107.27 215.01 L107.91 213.28 L108.56 211.47 L109.2 209.6 L109.85 207.65 L110.49 205.64 L111.14 203.56 L111.79 201.41 L112.43 199.19 L113.08 196.9 L113.72 194.54 L114.37 192.11 L115.01 189.61 L115.66 187.04 L116.3 184.4 L116.95 181.69 L117.6 178.92 L118.24 176.07 L118.89 173.16 L119.53 170.17 L120.18 167.12 L120.82 163.99 L121.47 160.8"/>
<path d="M43.9 224.3 L44.83 224.31 L45.76 224.34 L46.69 224.39 L47.62 224.45 L48.55 224.54 L49.49 224.64 L50.42 224.76 L51.35 224.91 L52.28 225.07 L53.21 225.25 L54.14 225.45 L55.07 225.66 L56 225.9 L56.93 226.16 L57.86 226.43 L58.8 226.73 L59.73 227.04 L60.66 227.37 L61.59 227.72 L62.52 228.09 L63.45 228.48 L64.38 228.89 L65.31 229.31 L66.24 229.76 L67.17 230.22 L68.11 230.71 L69.04 231.21 L69.97 231.73 L70.9 232.27 L71.83 232.83 L72.76 233.41 L73.69 234 L74.62 234.62 L75.55 235.25 L76.48 235.91 L77.42 236.58 L78.35 237.27 L79.28 237.98 L80.21 238.71 L80.91 239.27 L81.61 239.83 L82.3 240.38 L83 240.93 L83.7 241.47 L84.4 241.99 L85.1 242.5 L85.79 242.99 L86.49 243.46 L87.19 243.91 L87.89 244.33 L88.59 244.72 L89.28 245.08 L89.98 245.41 L90.68 245.71 L91.38 245.97 L92.08 246.19 L92.77 246.38 L93.47 246.52 L94.17 246.62 L94.87 246.68 L95.57 246.69 L96.26 246.66 L96.96 246.57 L97.66 246.44 L98.36 246.25 L99.06 246.01 L99.75 245.72 L100.45 245.37 L101.15 244.96 L101.85 244.49 L102.55 243.96 L103.24 243.37 L103.94 242.72 L104.64 242 L105.34 241.22 L106.04 240.37 L106.73 239.45 L107.43 238.47 L108.13 237.41 L108.83 236.28 L109.53 235.08 L110.22 233.8 L110.92 232.45 L111.62 231.02 L112.32 229.51 L113.02 227.92 L113.71 226.26 L114.41 224.51 L115.11 222.68 L115.81 220.76 L116.51 218.76 L117.2 216.68 L117.9 214.5 L118.6 212.24 L119.3 209.89 L120 207.46 L120.69 204.92 L121.39 202.3 L122.09 199.58 L122.79 196.77 L123.49 193.87 L124.18 190.86 L124.88 187.76 L125.58 184.57 L126.28 181.27 L126.98 177.87 L127.67 174.37 L128.37 170.76 L129.07 167.06 L129.77 163.25"/>
<path d="M43.9 224.3 L45.65 224.32 L47.4 224.38 L49.14 224.48 L50.89 224.62 L52.64 224.8 L54.39 225.02 L56.13 225.28 L57.88 225.57 L59.63 225.91 L61.38 226.29 L63.13 226.71 L64.87 227.17 L66.62 227.66 L68.37 228.2 L70.12 228.78 L71.86 229.39 L73.61 230.05 L75.36 230.75 L77.11 231.48 L78.86 232.26 L80.6 233.08 L82.35 233.93 L84.1 234.83 L85.85 235.76 L87.59 236.74 L89.34 237.75 L91.09 238.81 L92.84 239.9 L94.59 241.04 L96.33 242.21 L98.08 243.43 L99.83 244.68 L101.58 245.97 L103.32 247.31 L105.07 248.68 L106.82 250.09 L108.57 251.54 L110.32 253.04 L112.06 254.57 L112.56 254.98 L113.06 255.33 L113.56 255.62 L114.05 255.85 L114.55 256.02 L115.05 256.13 L115.55 256.18 L116.05 256.17 L116.54 256.09 L117.04 255.96 L117.54 255.77 L118.04 255.51 L118.53 255.2 L119.03 254.82 L119.53 254.38 L120.03 253.89 L120.52 253.33 L121.02 252.71 L121.52 252.03 L122.02 251.29 L122.52 250.49 L123.01 249.63 L123.51 248.71 L124.01 247.73 L124.51 246.69 L125 245.59 L125.5 244.42 L126 243.2 L126.5 241.91 L126.99 240.57 L127.49 239.16 L127.99 237.7 L128.49 236.17 L128.98 234.58 L129.48 232.93 L129.98 231.23 L130.48 229.46 L130.98 227.63 L131.47 225.74 L131.97 223.79 L132.47 221.77 L132.97 219.7 L133.46 217.57 L133.96 215.38 L134.46 213.12 L134.96 210.81 L135.45 208.43 L135.95 206 L136.45 203.5 L136.95 200.94 L137.45 198.33 L137.94 195.65 L138.44 192.91 L138.94 190.11 L139.44 187.25 L139.93 184.33 L140.43 181.35 L140.93 178.31 L141.43 175.21 L141.92 172.05 L142.42 168.82 L142.92 165.54 L143.42 162.19"/>
<path d="M43.9 224.3 L46 224.32 L48.1 224.39 L50.19 224.51 L52.29 224.66 L54.39 224.87 L56.49 225.12 L58.59 225.42 L60.68 225.76 L62.78 226.15 L64.88 226.58 L66.98 227.06 L69.08 227.58 L71.17 228.15 L73.27 228.77 L75.37 229.43 L77.47 230.14 L79.57 230.89 L81.66 231.69 L83.76 232.53 L85.86 233.42 L87.96 234.36 L90.05 235.34 L92.15 236.36 L94.25 237.43 L96.35 238.55 L98.45 239.71 L100.54 240.92 L102.64 242.18 L104.74 243.48 L106.84 244.82 L108.94 246.21 L111.03 247.65 L113.13 249.13 L115.23 250.66 L117.33 252.23 L119.43 253.85 L121.52 255.51 L123.62 257.22 L125.72 258.98 L126.13 259.31 L126.54 259.6 L126.96 259.84 L127.37 260.04 L127.78 260.2 L128.19 260.31 L128.6 260.37 L129.01 260.4 L129.43 260.37 L129.84 260.3 L130.25 260.18 L130.66 260.02 L131.07 259.81 L131.49 259.55 L131.9 259.25 L132.31 258.9 L132.72 258.5 L133.13 258.06 L133.54 257.57 L133.96 257.03 L134.37 256.45 L134.78 255.81 L135.19 255.13 L135.6 254.41 L136.01 253.63 L136.43 252.81 L136.84 251.94 L137.25 251.02 L137.66 250.05 L138.07 249.04 L138.49 247.97 L138.9 246.86 L139.31 245.7 L139.72 244.5 L140.13 243.24 L140.54 241.94 L140.96 240.58 L141.37 239.18 L141.78 237.73 L142.19 236.24 L142.6 234.69 L143.02 233.09 L143.43 231.45 L143.84 229.76 L144.25 228.02 L144.66 226.22 L145.07 224.39 L145.49 222.5 L145.9 220.56 L146.31 218.57 L146.72 216.54 L147.13 214.45 L147.54 212.32 L147.96 210.14 L148.37 207.9 L148.78 205.62 L149.19 203.29 L149.6 200.91 L150.02 198.48 L150.43 196.01 L150.84 193.48 L151.25 190.9 L151.66 188.27 L152.07 185.6 L152.49 182.87 L152.9 180.1 L153.31 177.27 L153.72 174.4 L154.13 171.47 L154.55 168.5 L154.96 165.47 L155.37 162.4"/>
<path d="M43.9 224.3 L46.29 224.32 L48.69 224.39 L51.08 224.5 L53.48 224.65 L55.87 224.85 L58.27 225.09 L60.66 225.38 L63.05 225.71 L65.45 226.09 L67.84 226.51 L70.24 226.97 L72.63 227.48 L75.02 228.03 L77.42 228.62 L79.81 229.26 L82.21 229.95 L84.6 230.68 L87 231.45 L89.39 232.26 L91.78 233.13 L94.18 234.03 L96.57 234.98 L98.97 235.97 L101.36 237.01 L103.76 238.09 L106.15 239.21 L108.54 240.38 L110.94 241.6 L113.33 242.86 L115.73 244.16 L118.12 245.5 L120.51 246.89 L122.91 248.33 L125.3 249.81 L127.7 251.33 L130.09 252.89 L132.49 254.5 L134.88 256.16 L137.27 257.86 L137.61 258.09 L137.95 258.31 L138.29 258.5 L138.63 258.67 L138.97 258.81 L139.31 258.92 L139.65 259.01 L139.99 259.07 L140.33 259.1 L140.67 259.1 L141 259.07 L141.34 259.01 L141.68 258.92 L142.02 258.8 L142.36 258.64 L142.7 258.46 L143.04 258.24 L143.38 257.99 L143.72 257.71 L144.06 257.4 L144.4 257.05 L144.73 256.67 L145.07 256.26 L145.41 255.81 L145.75 255.33 L146.09 254.81 L146.43 254.26 L146.77 253.68 L147.11 253.06 L147.45 252.4 L147.79 251.71 L148.13 250.99 L148.47 250.22 L148.8 249.43 L149.14 248.59 L149.48 247.73 L149.82 246.82 L150.16 245.88 L150.5 244.9 L150.84 243.89 L151.18 242.83 L151.52 241.75 L151.86 240.62 L152.2 239.46 L152.53 238.26 L152.87 237.02 L153.21 235.75 L153.55 234.43 L153.89 233.08 L154.23 231.69 L154.57 230.27 L154.91 228.8 L155.25 227.3 L155.59 225.76 L155.93 224.18 L156.26 222.56 L156.6 220.9 L156.94 219.21 L157.28 217.47 L157.62 215.7 L157.96 213.89 L158.3 212.03 L158.64 210.14 L158.98 208.21 L159.32 206.24 L159.66 204.23 L160 202.18 L160.33 200.09 L160.67 197.96 L161.01 195.79 L161.35 193.58 L161.69 191.33 L162.03 189.04 L162.37 186.71 L162.71 184.34 L163.05 181.93 L163.39 179.48 L163.73 176.99 L164.06 174.46 L164.4 171.88 L164.74 169.27 L165.08 166.61 L165.42 163.92 L165.76 161.18"/>
<path d="M43.9 224.3 L46.6 224.32 L49.3 224.38 L52 224.47 L54.7 224.61 L57.4 224.78 L60.1 225 L62.8 225.25 L65.51 225.54 L68.21 225.87 L70.91 226.23 L73.61 226.64 L76.31 227.08 L79.01 227.57 L81.71 228.09 L84.41 228.65 L87.11 229.25 L89.81 229.89 L92.51 230.56 L95.21 231.28 L97.91 232.03 L100.61 232.82 L103.31 233.65 L106.02 234.52 L108.72 235.43 L111.42 236.38 L114.12 237.37 L116.82 238.39 L119.52 239.45 L122.22 240.55 L124.92 241.69 L127.62 242.87 L130.32 244.09 L133.02 245.35 L135.72 246.64 L138.42 247.98 L141.12 249.35 L143.82 250.76 L146.52 252.21 L149.23 253.7 L149.49 253.84 L149.75 253.96 L150.02 254.06 L150.28 254.15 L150.55 254.22 L150.81 254.26 L151.07 254.29 L151.34 254.3 L151.6 254.28 L151.87 254.25 L152.13 254.2 L152.39 254.12 L152.66 254.02 L152.92 253.91 L153.18 253.77 L153.45 253.61 L153.71 253.42 L153.98 253.22 L154.24 252.99 L154.5 252.74 L154.77 252.47 L155.03 252.18 L155.3 251.87 L155.56 251.53 L155.82 251.17 L156.09 250.79 L156.35 250.38 L156.62 249.96 L156.88 249.51 L157.14 249.03 L157.41 248.54 L157.67 248.02 L157.94 247.48 L158.2 246.91 L158.46 246.33 L158.73 245.72 L158.99 245.08 L159.26 244.43 L159.52 243.75 L159.78 243.04 L160.05 242.32 L160.31 241.57 L160.58 240.79 L160.84 239.99 L161.1 239.17 L161.37 238.33 L161.63 237.46 L161.9 236.57 L162.16 235.65 L162.42 234.71 L162.69 233.75 L162.95 232.76 L163.22 231.75 L163.48 230.72 L163.74 229.66 L164.01 228.57 L164.27 227.47 L164.53 226.34 L164.8 225.18 L165.06 224 L165.33 222.8 L165.59 221.57 L165.85 220.32 L166.12 219.04 L166.38 217.74 L166.65 216.41 L166.91 215.06 L167.17 213.69 L167.44 212.29 L167.7 210.87 L167.97 209.42 L168.23 207.95 L168.49 206.45 L168.76 204.93 L169.02 203.38 L169.29 201.81 L169.55 200.22 L169.81 198.59 L170.08 196.95 L170.34 195.28 L170.61 193.59 L170.87 191.87 L171.13 190.12 L171.4 188.35 L171.66 186.56 L171.93 184.74 L172.19 182.89 L172.45 181.03 L172.72 179.13 L172.98 177.21 L173.25 175.27 L173.51 173.3 L173.77 171.3 L174.04 169.29 L174.3 167.24 L174.56 165.17 L174.83 163.08 L175.09 160.96"/>
<path d="M43.9 224.3 L46.85 224.31 L49.79 224.36 L52.74 224.43 L55.68 224.54 L58.63 224.67 L61.58 224.83 L64.52 225.02 L67.47 225.25 L70.41 225.5 L73.36 225.78 L76.31 226.09 L79.25 226.43 L82.2 226.8 L85.14 227.2 L88.09 227.63 L91.04 228.09 L93.98 228.57 L96.93 229.09 L99.87 229.64 L102.82 230.22 L105.77 230.82 L108.71 231.46 L111.66 232.12 L114.6 232.82 L117.55 233.54 L120.5 234.3 L123.44 235.08 L126.39 235.9 L129.33 236.74 L132.28 237.61 L135.23 238.51 L138.17 239.45 L141.12 240.41 L144.07 241.4 L147.01 242.42 L149.96 243.47 L152.9 244.55 L155.85 245.66 L158.8 246.8 L159 246.87 L159.2 246.94 L159.41 246.99 L159.61 247.03 L159.81 247.07 L160.02 247.09 L160.22 247.1 L160.43 247.1 L160.63 247.08 L160.83 247.06 L161.04 247.02 L161.24 246.97 L161.44 246.91 L161.65 246.84 L161.85 246.76 L162.06 246.66 L162.26 246.56 L162.46 246.44 L162.67 246.31 L162.87 246.17 L163.07 246.01 L163.28 245.85 L163.48 245.67 L163.69 245.48 L163.89 245.27 L164.09 245.06 L164.3 244.83 L164.5 244.59 L164.7 244.34 L164.91 244.08 L165.11 243.8 L165.32 243.51 L165.52 243.21 L165.72 242.9 L165.93 242.57 L166.13 242.24 L166.33 241.89 L166.54 241.52 L166.74 241.15 L166.95 240.76 L167.15 240.36 L167.35 239.95 L167.56 239.53 L167.76 239.09 L167.96 238.64 L168.17 238.18 L168.37 237.7 L168.58 237.22 L168.78 236.72 L168.98 236.2 L169.19 235.68 L169.39 235.14 L169.59 234.59 L169.8 234.03 L170 233.45 L170.21 232.87 L170.41 232.27 L170.61 231.65 L170.82 231.03 L171.02 230.39 L171.22 229.74 L171.43 229.07 L171.63 228.4 L171.84 227.71 L172.04 227.01 L172.24 226.29 L172.45 225.56 L172.65 224.82 L172.86 224.07 L173.06 223.3 L173.26 222.52 L173.47 221.73 L173.67 220.93 L173.87 220.11 L174.08 219.28 L174.28 218.44 L174.49 217.58 L174.69 216.72 L174.89 215.83 L175.1 214.94 L175.3 214.03 L175.5 213.11 L175.71 212.18 L175.91 211.23 L176.12 210.28 L176.32 209.3 L176.52 208.32 L176.73 207.32 L176.93 206.31 L177.13 205.29 L177.34 204.25 L177.54 203.2 L177.75 202.14 L177.95 201.06 L178.15 199.98 L178.36 198.88 L178.56 197.76 L178.76 196.63 L178.97 195.49 L179.17 194.34 L179.38 193.17 L179.58 191.99 L179.78 190.8 L179.99 189.6 L180.19 188.38 L180.39 187.15 L180.6 185.9 L180.8 184.64 L181.01 183.37 L181.21 182.09 L181.41 180.79 L181.62 179.48 L181.82 178.16 L182.02 176.82 L182.23 175.47 L182.43 174.11 L182.64 172.74 L182.84 171.35 L183.04 169.94 L183.25 168.53 L183.45 167.1 L183.65 165.66 L183.86 164.21 L184.06 162.74 L184.27 161.26"/>
<path d="M43.9 224.3 L47.03 224.31 L50.16 224.34 L53.3 224.39 L56.43 224.46 L59.56 224.55 L62.69 224.66 L65.83 224.79 L68.96 224.94 L72.09 225.11 L75.22 225.3 L78.35 225.51 L81.49 225.74 L84.62 225.99 L87.75 226.26 L90.88 226.55 L94.02 226.86 L97.15 227.19 L100.28 227.54 L103.41 227.91 L106.54 228.29 L109.68 228.7 L112.81 229.13 L115.94 229.58 L119.07 230.05 L122.21 230.54 L125.34 231.05 L128.47 231.58 L131.6 232.13 L134.73 232.7 L137.87 233.29 L141 233.9 L144.13 234.53 L147.26 235.18 L150.4 235.84 L153.53 236.53 L156.66 237.24 L159.79 237.97 L162.92 238.72 L166.06 239.49 L166.22 239.53 L166.37 239.57 L166.53 239.6 L166.69 239.64 L166.85 239.67 L167.01 239.71 L167.16 239.74 L167.32 239.76 L167.48 239.79 L167.64 239.81 L167.8 239.83 L167.95 239.85 L168.11 239.87 L168.27 239.88 L168.43 239.89 L168.59 239.9 L168.74 239.9 L168.9 239.9 L169.06 239.89 L169.22 239.89 L169.38 239.87 L169.54 239.86 L169.69 239.84 L169.85 239.82 L170.01 239.79 L170.17 239.76 L170.33 239.72 L170.48 239.69 L170.64 239.64 L170.8 239.59 L170.96 239.54 L171.12 239.48 L171.27 239.42 L171.43 239.36 L171.59 239.28 L171.75 239.21 L171.91 239.13 L172.06 239.04 L172.22 238.95 L172.38 238.85 L172.54 238.75 L172.7 238.65 L172.86 238.53 L173.01 238.42 L173.17 238.29 L173.33 238.17 L173.49 238.03 L173.65 237.89 L173.8 237.75 L173.96 237.6 L174.12 237.44 L174.28 237.28 L174.44 237.11 L174.59 236.94 L174.75 236.76 L174.91 236.57 L175.07 236.38 L175.23 236.18 L175.38 235.98 L175.54 235.76 L175.7 235.55 L175.86 235.32 L176.02 235.09 L176.18 234.86 L176.33 234.61 L176.49 234.37 L176.65 234.11 L176.81 233.85 L176.97 233.58 L177.12 233.3 L177.28 233.02 L177.44 232.73 L177.6 232.43 L177.76 232.13 L177.91 231.82 L178.07 231.5 L178.23 231.17 L178.39 230.84 L178.55 230.5 L178.7 230.16 L178.86 229.8 L179.02 229.44 L179.18 229.07 L179.34 228.7 L179.5 228.31 L179.65 227.92 L179.81 227.52 L179.97 227.12 L180.13 226.7 L180.29 226.28 L180.44 225.85 L180.6 225.42 L180.76 224.97 L180.92 224.52 L181.08 224.06 L181.23 223.59 L181.39 223.11 L181.55 222.63 L181.71 222.14 L181.87 221.64 L182.02 221.13 L182.18 220.61 L182.34 220.09 L182.5 219.55 L182.66 219.01 L182.81 218.46 L182.97 217.9 L183.13 217.34 L183.29 216.76 L183.45 216.18 L183.61 215.59 L183.76 214.99 L183.92 214.38 L184.08 213.76 L184.24 213.13 L184.4 212.5 L184.55 211.85 L184.71 211.2 L184.87 210.54 L185.03 209.87 L185.19 209.19 L185.34 208.5 L185.5 207.8 L185.66 207.1 L185.82 206.38 L185.98 205.66 L186.13 204.92 L186.29 204.18 L186.45 203.43 L186.61 202.67 L186.77 201.9 L186.93 201.12 L187.08 200.33 L187.24 199.53 L187.4 198.72 L187.56 197.91 L187.72 197.08 L187.87 196.24 L188.03 195.4 L188.19 194.54 L188.35 193.68 L188.51 192.8 L188.66 191.92 L188.82 191.03 L188.98 190.12 L189.14 189.21 L189.3 188.29 L189.45 187.35 L189.61 186.41 L189.77 185.46 L189.93 184.5 L190.09 183.52 L190.25 182.54 L190.4 181.55 L190.56 180.55 L190.72 179.53 L190.88 178.51 L191.04 177.48 L191.19 176.43"/>
</g>
<path d="M168.5 219.5 L117.13 210.02" stroke="#000" stroke-width="0.9" fill="none"/>
<path d="M112.7 209.2 L117.43 208.35 L116.82 211.69 Z" fill="#000"/>
<rect x="250.4" y="8.7" width="164" height="101.6" fill="none" stroke="#6e6e6e" stroke-width="0.8"/>
<path d="M253 110.3 v-2.2M253 8.7 v2.2M290.96 110.3 v-2.2M290.96 8.7 v2.2M328.92 110.3 v-2.2M328.92 8.7 v2.2M366.88 110.3 v-2.2M366.88 8.7 v2.2M404.84 110.3 v-2.2M404.84 8.7 v2.2M253 110.3 v-1.3M253 8.7 v1.3M262.49 110.3 v-1.3M262.49 8.7 v1.3M271.98 110.3 v-1.3M271.98 8.7 v1.3M281.47 110.3 v-1.3M281.47 8.7 v1.3M290.96 110.3 v-1.3M290.96 8.7 v1.3M300.45 110.3 v-1.3M300.45 8.7 v1.3M309.94 110.3 v-1.3M309.94 8.7 v1.3M319.43 110.3 v-1.3M319.43 8.7 v1.3M328.92 110.3 v-1.3M328.92 8.7 v1.3M338.41 110.3 v-1.3M338.41 8.7 v1.3M347.9 110.3 v-1.3M347.9 8.7 v1.3M357.39 110.3 v-1.3M357.39 8.7 v1.3M366.88 110.3 v-1.3M366.88 8.7 v1.3M376.37 110.3 v-1.3M376.37 8.7 v1.3M385.86 110.3 v-1.3M385.86 8.7 v1.3M395.35 110.3 v-1.3M395.35 8.7 v1.3M404.84 110.3 v-1.3M404.84 8.7 v1.3M414.33 110.3 v-1.3M414.33 8.7 v1.3M250.4 12.2 h2.2M414.4 12.2 h-2.2M250.4 27 h2.2M414.4 27 h-2.2M250.4 41.8 h2.2M414.4 41.8 h-2.2M250.4 56.6 h2.2M414.4 56.6 h-2.2M250.4 71.4 h2.2M414.4 71.4 h-2.2M250.4 86.2 h2.2M414.4 86.2 h-2.2M250.4 101 h2.2M414.4 101 h-2.2M250.4 12.2 h1.3M414.4 12.2 h-1.3M250.4 15.9 h1.3M414.4 15.9 h-1.3M250.4 19.6 h1.3M414.4 19.6 h-1.3M250.4 23.3 h1.3M414.4 23.3 h-1.3M250.4 27 h1.3M414.4 27 h-1.3M250.4 30.7 h1.3M414.4 30.7 h-1.3M250.4 34.4 h1.3M414.4 34.4 h-1.3M250.4 38.1 h1.3M414.4 38.1 h-1.3M250.4 41.8 h1.3M414.4 41.8 h-1.3M250.4 45.5 h1.3M414.4 45.5 h-1.3M250.4 49.2 h1.3M414.4 49.2 h-1.3M250.4 52.9 h1.3M414.4 52.9 h-1.3M250.4 56.6 h1.3M414.4 56.6 h-1.3M250.4 60.3 h1.3M414.4 60.3 h-1.3M250.4 64 h1.3M414.4 64 h-1.3M250.4 67.7 h1.3M414.4 67.7 h-1.3M250.4 71.4 h1.3M414.4 71.4 h-1.3M250.4 75.1 h1.3M414.4 75.1 h-1.3M250.4 78.8 h1.3M414.4 78.8 h-1.3M250.4 82.5 h1.3M414.4 82.5 h-1.3M250.4 86.2 h1.3M414.4 86.2 h-1.3M250.4 89.9 h1.3M414.4 89.9 h-1.3M250.4 93.6 h1.3M414.4 93.6 h-1.3M250.4 97.3 h1.3M414.4 97.3 h-1.3M250.4 101 h1.3M414.4 101 h-1.3M250.4 104.7 h1.3M414.4 104.7 h-1.3M250.4 108.4 h1.3M414.4 108.4 h-1.3" fill="none" stroke="#6e6e6e" stroke-width="0.7"/>
<path d="M253.2 11.5 H414.4" stroke="#808080" stroke-width="1.6"/>
<text x="248" y="16.5" font-family="Liberation Sans, sans-serif" font-size="11.6" text-anchor="end" letter-spacing="-0.85" fill="#000" stroke="#000" stroke-width="0.18">0.000</text>
<text x="248" y="31.3" font-family="Liberation Sans, sans-serif" font-size="11.6" text-anchor="end" letter-spacing="-0.85" fill="#000" stroke="#000" stroke-width="0.18">-0.002</text>
<text x="248" y="46.1" font-family="Liberation Sans, sans-serif" font-size="11.6" text-anchor="end" letter-spacing="-0.85" fill="#000" stroke="#000" stroke-width="0.18">-0.004</text>
<text x="248" y="60.9" font-family="Liberation Sans, sans-serif" font-size="11.6" text-anchor="end" letter-spacing="-0.85" fill="#000" stroke="#000" stroke-width="0.18">-0.006</text>
<text x="248" y="75.7" font-family="Liberation Sans, sans-serif" font-size="11.6" text-anchor="end" letter-spacing="-0.85" fill="#000" stroke="#000" stroke-width="0.18">-0.008</text>
<text x="248" y="90.5" font-family="Liberation Sans, sans-serif" font-size="11.6" text-anchor="end" letter-spacing="-0.85" fill="#000" stroke="#000" stroke-width="0.18">-0.010</text>
<text x="248" y="105.3" font-family="Liberation Sans, sans-serif" font-size="11.6" text-anchor="end" letter-spacing="-0.85" fill="#000" stroke="#000" stroke-width="0.18">-0.012</text>
<text x="257" y="121.4" font-family="Liberation Sans, sans-serif" font-size="12.2" text-anchor="middle" letter-spacing="-0.95" fill="#000" stroke="#000" stroke-width="0.18">0.0</text>
<text x="290.9" y="121.4" font-family="Liberation Sans, sans-serif" font-size="12.2" text-anchor="middle" letter-spacing="-0.95" fill="#000" stroke="#000" stroke-width="0.18">0.2</text>
<text x="329.2" y="121.4" font-family="Liberation Sans, sans-serif" font-size="12.2" text-anchor="middle" letter-spacing="-0.95" fill="#000" stroke="#000" stroke-width="0.18">0.4</text>
<text x="366" y="121.4" font-family="Liberation Sans, sans-serif" font-size="12.2" text-anchor="middle" letter-spacing="-0.95" fill="#000" stroke="#000" stroke-width="0.18">0.6</text>
<text x="404.2" y="121.4" font-family="Liberation Sans, sans-serif" font-size="12.2" text-anchor="middle" letter-spacing="-0.95" fill="#000" stroke="#000" stroke-width="0.18">0.8</text>
<text x="206.4" y="7.2" font-family="Liberation Sans, sans-serif" font-size="12.5" fill="#000">c</text>
<text transform="translate(333.2,132.7) scale(1.1,1)" font-family="Liberation Serif, serif" font-size="12.6" text-anchor="middle" letter-spacing="0.15" fill="#000"><tspan font-style="italic">K</tspan>/2<tspan font-style="italic">q</tspan><tspan font-style="italic" font-size="8.82" dy="2.2">F</tspan></text>
<text transform="translate(214.8,63) rotate(-90)" font-family="Liberation Serif, serif" font-size="12" text-anchor="middle" letter-spacing="0.5" fill="#000">2<tspan font-style="italic">π</tspan>[<tspan font-style="italic">F</tspan><tspan letter-spacing="1.5"> − </tspan><tspan font-style="italic">F</tspan><tspan font-style="italic" font-size="8" dy="2">FM</tspan><tspan dy="-2"> ]/(</tspan><tspan font-style="italic">μQ</tspan><tspan font-size="8" dy="-4">2</tspan><tspan dy="4">)</tspan></text>
<g fill="none" stroke="#1a1a1a" stroke-width="1">
<path d="M267.1 12 C267.45 12.8 268.55 15.38 269.2 16.8 C269.85 18.22 270.43 19.25 271 20.5 C271.57 21.75 272.33 23.67 272.6 24.3"/>
<path d="M272.6 12 C273.05 13 274.35 15.38 275.3 18 C276.25 20.62 277.47 24.78 278.3 27.7 C279.13 30.62 279.97 34.2 280.3 35.5"/>
<path d="M282.7 12 C283.27 13.22 285.03 16.28 286.1 19.3 C287.17 22.32 288.25 26.48 289.1 30.1 C289.95 33.72 290.45 37.18 291.2 41 C291.95 44.82 292.83 48.93 293.6 53 C294.37 57.07 295.43 63.33 295.8 65.4"/>
<path d="M294.3 12 C294.93 13.62 297.05 18.48 298.1 21.7 C299.15 24.92 299.85 28.08 300.6 31.3 C301.35 34.52 301.58 35.92 302.6 41 C303.62 46.08 305.47 55.47 306.7 61.8 C307.93 68.13 308.87 73.08 310 79 C311.13 84.92 312.92 94.25 313.5 97.3"/>
<path d="M310.2 12 C310.92 14 313.2 19.58 314.5 24 C315.8 28.42 316.98 34.17 318 38.5 C319.02 42.83 319.57 45.63 320.6 50 C321.63 54.37 322.63 59.03 324.2 64.7 C325.77 70.37 327.68 76.87 330 84 C332.32 91.13 336.75 103.58 338.1 107.5"/>
<path d="M321.6 12 C322.45 14.63 325.15 23.05 326.7 27.8 C328.25 32.55 329.45 36.8 330.9 40.5 C332.35 44.2 334.12 47 335.4 50 C336.68 53 337.5 56.05 338.6 58.5 C339.7 60.95 340.77 62.62 342 64.7 C343.23 66.78 344.5 69.25 346 71 C347.5 72.75 349.1 74.33 351 75.2 C352.9 76.07 356.33 76.03 357.4 76.2"/>
<path d="M329.6 12 C330.82 14.15 334.47 20.82 336.9 24.9 C339.33 28.98 341.53 33.23 344.2 36.5 C346.87 39.77 350 42.8 352.9 44.5 C355.8 46.2 359.08 46.52 361.6 46.7 C364.12 46.88 366.07 46.13 368 45.6 C369.93 45.07 372.33 43.85 373.2 43.5"/>
<path d="M336.2 12 C337.28 12.93 340.17 15.45 342.7 17.6 C345.23 19.75 348.73 23.08 351.4 24.9 C354.07 26.72 356.52 27.77 358.7 28.5 C360.88 29.23 361.28 29.53 364.5 29.3 C367.72 29.07 374.25 27.9 378 27.1 C381.75 26.3 385.5 24.93 387 24.5"/>
<path d="M339.8 12 C341 12.5 344.33 13.93 347 15 C349.67 16.07 352.63 17.6 355.8 18.4 C358.97 19.2 362.3 19.73 366 19.8 C369.7 19.87 372.4 19.47 378 18.8 C383.6 18.13 396 16.3 399.6 15.8"/>
<path d="M342.7 12 C344.63 12.32 350.42 13.43 354.3 13.9 C358.18 14.37 362.05 14.72 366 14.8 C369.95 14.88 373.17 14.6 378 14.4 C382.83 14.2 389.32 13.83 395 13.6 C400.68 13.37 409.25 13.1 412.1 13"/>
</g>
<path d="M358 24.2 L300.75 44.03" stroke="#2020ff" stroke-width="0.9" fill="none"/>
<path d="M296.5 45.5 L300.2 42.42 L301.31 45.63 Z" fill="#101030"/>
<clipPath id="cd"><path d="M238.9 275.0 L238.9 155.4 L240.4 155.4 L242.4 166.9 C241.92 166.7 243.68 166.33 245 166.2 C246.32 166.07 247.78 165.8 249.2 166 C250.62 166.2 252.08 166.83 253.5 167.4 C254.92 167.97 256.28 168.97 257.7 169.4 C259.12 169.83 260.7 170.07 262 170 C263.3 169.93 264.35 169.38 265.5 169 C266.65 168.62 267.48 167.77 268.9 167.7 C270.32 167.63 272.32 168.4 274 168.6 C275.68 168.8 277.42 168.85 279 168.9 C280.58 168.95 282.08 168.82 283.5 168.9 C284.92 168.98 286.37 169.17 287.5 169.4 C288.63 169.63 289.3 169.83 290.3 170.3 C291.3 170.77 292.35 171.35 293.5 172.2 C294.65 173.05 296.2 174.63 297.2 175.4 C298.2 176.17 298.78 176.55 299.5 176.8 C300.22 177.05 300.75 176.83 301.5 176.9 C302.25 176.97 303.17 176.95 304 177.2 C304.83 177.45 305.63 177.83 306.5 178.4 C307.37 178.97 308.03 179.62 309.2 180.6 C310.37 181.58 312.08 183.02 313.5 184.3 C314.92 185.58 316.28 186.93 317.7 188.3 C319.12 189.67 320.57 191.07 322 192.5 C323.43 193.93 324.97 195.52 326.3 196.9 C327.63 198.28 328.85 199.48 330 200.8 C331.15 202.12 331.98 203.07 333.2 204.8 C334.42 206.53 336.13 209.4 337.3 211.2 C338.47 213 339.25 213.88 340.2 215.6 C341.15 217.32 342.13 219.52 343 221.5 C343.87 223.48 344.7 225.5 345.4 227.5 C346.1 229.5 346.63 231.5 347.2 233.5 C347.77 235.5 348.3 237.42 348.8 239.5 C349.3 241.58 349.77 243.75 350.2 246 C350.63 248.25 351.03 250.28 351.4 253 C351.77 255.72 352.17 259.72 352.4 262.3 C352.63 264.88 352.7 266.38 352.8 268.5 C352.9 270.62 352.97 273.92 353 275 Z"/></clipPath>
<g clip-path="url(#cd)">
<rect x="236" y="153" width="120" height="124" fill="#66ff00"/>
<path d="M279 170 C280.8 168.33 286.5 168.33 292 170 C297.5 171.67 304.67 174.33 312 180 C319.33 185.67 329.67 194.67 336 204 C342.33 213.33 346.83 223.67 350 236 C353.17 248.33 363.33 270.83 355 278 C346.67 285.17 312.07 279 300 279 C287.93 279 285.27 280 282.6 278 C279.93 276 284.57 270.58 284 267 C283.43 263.42 279.77 259.67 279.2 256.5 C278.63 253.33 279.75 251.92 280.6 248 C281.45 244.08 283.7 237.17 284.3 233 C284.9 228.83 283.52 226.17 284.2 223 C284.88 219.83 287.63 217.67 288.4 214 C289.17 210.33 289.3 205 288.8 201 C288.3 197 286.67 193.5 285.4 190 C284.13 186.5 282.27 183.33 281.2 180 C280.13 176.67 277.2 171.67 279 170Z" fill="#3cff00"/>
<path d="M281 171 C282.47 169.5 286.83 169.33 292 171 C297.17 172.67 304.67 175.33 312 181 C319.33 186.67 329.67 195.83 336 205 C342.33 214.17 346.83 223.83 350 236 C353.17 248.17 363.33 270.83 355 278 C346.67 285.17 311.73 279 300 279 C288.27 279 286.93 279.92 284.6 278 C282.27 276.08 286.53 271.08 286 267.5 C285.47 263.92 281.93 259.75 281.4 256.5 C280.87 253.25 281.97 251.83 282.8 248 C283.63 244.17 285.8 237.58 286.4 233.5 C287 229.42 285.73 226.75 286.4 223.5 C287.07 220.25 289.7 217.75 290.4 214 C291.1 210.25 291.1 205 290.6 201 C290.1 197 288.63 193.5 287.4 190 C286.17 186.5 284.27 183.17 283.2 180 C282.13 176.83 279.53 172.5 281 171Z" fill="#0cff14"/>
<path d="M309 226 C311.17 223.33 316.83 221.67 322 222 C327.17 222.33 335.5 224 340 228 C344.5 232 347.17 240.33 349 246 C350.83 251.67 351.17 257.67 351 262 C350.83 266.33 350.5 271 348 272 C345.5 273 340 269.67 336 268 C332 266.33 327.67 265 324 262 C320.33 259 316.5 254 314 250 C311.5 246 309.83 242 309 238 C308.17 234 306.83 228.67 309 226Z" fill="#00ff3c"/>
<path d="M293 246 C294.17 244.33 296.5 243.33 298 244 C299.5 244.67 301.5 247.67 302 250 C302.5 252.33 301.83 255.67 301 258 C300.17 260.33 298.42 263.33 297 264 C295.58 264.67 293.5 263.67 292.5 262 C291.5 260.33 290.92 256.67 291 254 C291.08 251.33 291.83 247.67 293 246Z" fill="#3cff00"/>
<path d="M307.5 262.5 C308.33 261.75 310.58 261.25 312 261.5 C313.42 261.75 315.5 262.83 316 264 C316.5 265.17 316 267.67 315 268.5 C314 269.33 311.33 269.42 310 269 C308.67 268.58 307.42 267.08 307 266 C306.58 264.92 306.67 263.25 307.5 262.5Z" fill="#50ff00"/>
<path d="M317.5 248 C317.83 246.83 320.5 246.25 322 246.5 C323.5 246.75 326 248.33 326.5 249.5 C327 250.67 326.08 252.83 325 253.5 C323.92 254.17 321.25 254.42 320 253.5 C318.75 252.58 317.17 249.17 317.5 248Z" fill="#3cff00"/>
<path d="M322 256 C322.83 255.17 326.33 254.67 328 255 C329.67 255.33 331.83 257 332 258 C332.17 259 330.5 260.67 329 261 C327.5 261.33 324.17 260.83 323 260 C321.83 259.17 321.17 256.83 322 256Z" fill="#3cff00"/>
<path d="M336 262 C336.5 261 339.17 260.33 340 261 C340.83 261.67 341.5 265 341 266 C340.5 267 337.83 267.67 337 267 C336.17 266.33 335.5 263 336 262Z" fill="#50ff00"/>
<path d="M279.96 168.14 L290.24 170.3 L293.42 172.64 L295.22 173.85 L296.66 174.59 L297.91 175.11 L299.01 175.59 L300.1 176.22 L301.19 176.95 L302.26 177.72 L303.29 178.49 L304.3 179.27 L305.3 180.08 L306.29 180.92 L307.25 181.71 L308.16 182.43 L309.04 183.08 L309.89 183.68 L310.72 184.26 L311.56 184.89 L312.4 185.54 L313.23 186.19 L314.05 186.83 L314.85 187.46 L315.63 188.08 L316.38 188.67 L317.14 189.28 L317.92 189.96 L318.73 190.69 L319.56 191.48 L320.43 192.33 L321.3 193.23 L322.13 194.12 L322.91 194.99 L323.65 195.82 L324.34 196.62 L325.02 197.38 L325.73 198.17 L326.49 199.01 L327.28 199.89 L328.08 200.79 L328.87 201.71 L329.63 202.61 L330.3 203.43 L330.96 204.24 L331.64 205.1 L332.35 206.02 L333.07 207.01 L333.76 208.06 L334.41 209.11 L335.04 210.2 L335.66 211.35 L336.27 212.55 L336.88 213.82 L337.49 215.15 L338.13 216.51 L338.75 217.85 L339.36 219.14 L339.94 220.39 L340.46 221.59 L341.01 222.8 L341.71 224.14 L342.51 225.65 L343.44 227.34 L344.63 229.39 L346.3 232.27 L348.57 237.11 L350.03 244.6 L348.25 252.67 L342.86 258.31 L335.85 259.85 L329.48 258.05 L324.13 253.98 L320.23 248.57 L318.17 244.29 L317.08 241.79 L316.34 240.39 L315.77 239.68 L315.28 239.34 L314.76 238.96 L314.14 238.24 L313.42 237.22 L312.62 236.03 L311.76 234.75 L310.86 233.49 L309.91 232.29 L308.9 231.06 L307.83 229.75 L306.75 228.38 L305.67 226.96 L304.61 225.44 L303.58 223.85 L302.65 222.36 L301.84 221.09 L301.15 220.06 L300.56 219.27 L300 218.68 L299.39 218.1 L298.7 217.39 L297.94 216.58 L297.13 215.63 L296.27 214.53 L295.38 213.32 L294.51 212.09 L293.7 210.96 L292.95 209.96 L292.26 209.1 L291.62 208.42 L291.02 207.87 L290.4 207.35 L289.74 206.79 L289.05 206.2 L288.35 205.58 L287.65 204.92 L286.99 204.38 L286.38 204.04 L285.74 203.68 L285.04 203.09 L284.29 202.23 L283.49 201.05 L282.76 199.91 L282.22 199.21 L281.64 198.4 L280.81 196.88 L279.38 193.99 L275.29 186.25Z" fill="#14ff00"/>
<path d="M282.44 172.14 L290.72 174.08 L293.35 176.06 L294.94 177.08 L296.27 177.72 L297.46 178.18 L298.51 178.6 L299.52 179.14 L300.54 179.78 L301.52 180.45 L302.48 181.13 L303.42 181.81 L304.34 182.53 L305.26 183.27 L306.15 183.98 L307.02 184.63 L307.86 185.23 L308.68 185.79 L309.49 186.35 L310.3 186.94 L311.11 187.55 L311.91 188.17 L312.7 188.78 L313.48 189.38 L314.24 189.97 L314.98 190.55 L315.72 191.14 L316.47 191.78 L317.24 192.47 L318.02 193.21 L318.83 194 L319.65 194.84 L320.44 195.69 L321.19 196.52 L321.92 197.34 L322.61 198.14 L323.3 198.92 L324.02 199.71 L324.77 200.55 L325.55 201.42 L326.34 202.31 L327.11 203.2 L327.84 204.07 L328.51 204.88 L329.15 205.67 L329.8 206.49 L330.46 207.36 L331.12 208.29 L331.77 209.26 L332.37 210.25 L332.96 211.29 L333.55 212.37 L334.11 213.49 L334.66 214.66 L335.2 215.85 L335.75 217.06 L336.29 218.25 L336.82 219.41 L337.31 220.54 L337.76 221.63 L338.23 222.72 L338.82 223.92 L339.51 225.25 L340.3 226.72 L341.32 228.49 L342.77 230.93 L344.76 234.98 L346.12 241.25 L344.75 248.02 L340.31 252.72 L334.48 253.95 L329.2 252.34 L324.81 248.82 L321.67 244.19 L320.07 240.55 L319.19 238.43 L318.56 237.22 L318.04 236.58 L317.54 236.24 L317.02 235.86 L316.43 235.19 L315.77 234.29 L315.05 233.23 L314.26 232.09 L313.42 230.94 L312.52 229.81 L311.53 228.63 L310.5 227.37 L309.44 226.05 L308.4 224.69 L307.39 223.27 L306.42 221.8 L305.54 220.4 L304.76 219.17 L304.06 218.12 L303.43 217.27 L302.81 216.57 L302.15 215.89 L301.42 215.12 L300.65 214.28 L299.84 213.33 L298.99 212.27 L298.14 211.11 L297.3 209.94 L296.5 208.84 L295.76 207.84 L295.05 206.96 L294.38 206.21 L293.73 205.58 L293.07 204.99 L292.37 204.36 L291.66 203.72 L290.94 203.07 L290.22 202.39 L289.54 201.81 L288.9 201.4 L288.22 200.97 L287.51 200.37 L286.78 199.56 L286.05 198.5 L285.39 197.48 L284.87 196.81 L284.33 196.07 L283.63 194.78 L282.5 192.49 L279.13 186.57Z" fill="#00ff46"/>
<path d="M284.06 174.75 L291.02 176.48 L293.31 178.19 L294.77 179.07 L296.04 179.63 L297.19 180.05 L298.21 180.43 L299.18 180.92 L300.14 181.49 L301.08 182.08 L302 182.69 L302.89 183.31 L303.78 183.96 L304.66 184.64 L305.52 185.29 L306.36 185.9 L307.18 186.47 L307.98 187.01 L308.78 187.55 L309.57 188.11 L310.37 188.7 L311.16 189.29 L311.93 189.88 L312.7 190.48 L313.45 191.05 L314.18 191.62 L314.91 192.2 L315.64 192.82 L316.39 193.48 L317.15 194.19 L317.93 194.95 L318.71 195.75 L319.48 196.57 L320.22 197.39 L320.94 198.2 L321.63 199 L322.33 199.79 L323.05 200.59 L323.81 201.43 L324.58 202.29 L325.36 203.17 L326.12 204.05 L326.84 204.9 L327.49 205.71 L328.13 206.49 L328.76 207.28 L329.39 208.12 L330.02 209.01 L330.64 209.94 L331.22 210.9 L331.79 211.9 L332.35 212.95 L332.88 214.03 L333.4 215.13 L333.89 216.25 L334.38 217.37 L334.86 218.48 L335.32 219.57 L335.74 220.63 L336.12 221.65 L336.52 222.67 L337.02 223.78 L337.59 224.99 L338.24 226.32 L339.08 227.88 L340.28 229.99 L341.96 233.41 L343.12 238.68 L342 244.36 L338.29 248.3 L333.41 249.33 L328.98 247.97 L325.31 245.01 L322.69 241.12 L321.33 238.06 L320.57 236.25 L319.99 235.2 L319.48 234.61 L318.98 234.26 L318.46 233.88 L317.89 233.27 L317.25 232.44 L316.56 231.48 L315.81 230.44 L315 229.37 L314.11 228.29 L313.14 227.15 L312.11 225.92 L311.07 224.64 L310.05 223.32 L309.06 221.96 L308.14 220.56 L307.28 219.23 L306.51 218.02 L305.8 216.96 L305.15 216.06 L304.51 215.3 L303.81 214.56 L303.07 213.75 L302.29 212.88 L301.48 211.93 L300.64 210.89 L299.8 209.77 L298.98 208.64 L298.19 207.56 L297.45 206.56 L296.73 205.66 L296.05 204.87 L295.38 204.19 L294.69 203.55 L293.98 202.88 L293.25 202.21 L292.53 201.53 L291.8 200.84 L291.11 200.23 L290.44 199.77 L289.75 199.29 L289.04 198.68 L288.33 197.9 L287.62 196.93 L287 196 L286.49 195.36 L285.96 194.65 L285.33 193.51 L284.37 191.59 L281.5 186.78Z" fill="#00ff96"/>
<path d="M318 238 C318.5 235.67 320.67 234.33 324 234 C327.33 233.67 334.92 234.67 338 236 C341.08 237.33 342.17 239.83 342.5 242 C342.83 244.17 342.08 247.42 340 249 C337.92 250.58 333.17 251.67 330 251.5 C326.83 251.33 323 250.25 321 248 C319 245.75 317.5 240.33 318 238Z" fill="#00ff96"/>
<path d="M285.74 177.46 L291.3 178.78 L293.26 180.15 L294.61 180.88 L295.82 181.36 L296.94 181.72 L297.94 182.05 L298.87 182.47 L299.8 182.97 L300.7 183.49 L301.59 184.02 L302.45 184.57 L303.31 185.15 L304.16 185.76 L305 186.35 L305.82 186.92 L306.63 187.46 L307.43 187.98 L308.22 188.5 L309 189.04 L309.79 189.61 L310.56 190.18 L311.33 190.75 L312.09 191.33 L312.83 191.9 L313.56 192.45 L314.28 193.02 L315.01 193.63 L315.73 194.27 L316.47 194.95 L317.23 195.68 L317.99 196.45 L318.74 197.25 L319.46 198.06 L320.18 198.87 L320.88 199.67 L321.57 200.46 L322.3 201.26 L323.06 202.1 L323.83 202.96 L324.6 203.83 L325.35 204.7 L326.05 205.55 L326.7 206.34 L327.33 207.12 L327.94 207.9 L328.55 208.71 L329.16 209.57 L329.74 210.48 L330.3 211.42 L330.84 212.4 L331.38 213.42 L331.88 214.47 L332.35 215.53 L332.79 216.59 L333.2 217.65 L333.59 218.69 L333.96 219.71 L334.3 220.71 L334.59 221.67 L334.9 222.63 L335.27 223.64 L335.7 224.74 L336.18 225.92 L336.81 227.27 L337.72 229.02 L339.01 231.76 L339.9 235.92 L338.99 240.36 L336.04 243.39 L332.2 244.07 L328.74 242.88 L325.91 240.41 L323.97 237.24 L323 234.77 L322.42 233.32 L321.93 232.45 L321.44 231.91 L320.95 231.57 L320.43 231.19 L319.88 230.63 L319.29 229.9 L318.66 229.06 L317.97 228.14 L317.21 227.17 L316.35 226.16 L315.4 225.06 L314.4 223.88 L313.38 222.64 L312.38 221.38 L311.44 220.1 L310.56 218.81 L309.75 217.56 L308.99 216.39 L308.28 215.31 L307.6 214.35 L306.91 213.5 L306.18 212.67 L305.4 211.8 L304.61 210.91 L303.8 209.96 L302.98 208.95 L302.16 207.88 L301.37 206.8 L300.59 205.75 L299.85 204.75 L299.12 203.82 L298.41 202.98 L297.7 202.23 L296.98 201.51 L296.24 200.79 L295.5 200.08 L294.75 199.37 L294.02 198.66 L293.31 198.01 L292.61 197.48 L291.89 196.95 L291.17 196.33 L290.48 195.59 L289.83 194.73 L289.26 193.91 L288.77 193.3 L288.26 192.65 L287.73 191.72 L287.02 190.33 L284.52 187.03Z" fill="#00fff0"/>
<path d="M322.5 236 C322.92 234.5 324.75 232.75 327 232.5 C329.25 232.25 334 233.33 336 234.5 C338 235.67 338.83 238 339 239.5 C339.17 241 338.5 242.67 337 243.5 C335.5 244.33 332.08 244.83 330 244.5 C327.92 244.17 325.75 242.92 324.5 241.5 C323.25 240.08 322.08 237.5 322.5 236Z" fill="#00fff0"/>
<path d="M287.14 179.72 L291.54 180.67 L293.23 181.76 L294.48 182.35 L295.65 182.76 L296.74 183.08 L297.72 183.37 L298.62 183.74 L299.52 184.17 L300.39 184.63 L301.25 185.1 L302.1 185.59 L302.93 186.11 L303.77 186.66 L304.59 187.21 L305.4 187.74 L306.2 188.25 L306.99 188.76 L307.77 189.26 L308.54 189.79 L309.32 190.33 L310.09 190.89 L310.85 191.45 L311.6 192.01 L312.34 192.57 L313.06 193.12 L313.78 193.68 L314.49 194.27 L315.21 194.89 L315.94 195.55 L316.67 196.26 L317.41 197.02 L318.14 197.8 L318.86 198.6 L319.57 199.4 L320.27 200.2 L320.97 201 L321.7 201.8 L322.46 202.64 L323.22 203.5 L323.99 204.36 L324.73 205.22 L325.43 206.06 L326.07 206.86 L326.69 207.62 L327.29 208.4 L327.88 209.19 L328.46 210.03 L329.01 210.91 L329.55 211.84 L330.08 212.8 L330.59 213.8 L331.06 214.82 L331.49 215.85 L331.87 216.87 L332.21 217.87 L332.51 218.86 L332.78 219.83 L333.01 220.78 L333.21 221.69 L333.4 222.58 L333.63 223.51 L333.87 224.5 L334.14 225.53 L334.5 226.64 L335.03 228 L335.8 229.97 L336.3 232.83 L335.58 235.83 L333.5 237.81 L330.83 238.18 L328.46 237.27 L326.55 235.51 L325.28 233.27 L324.63 231.55 L324.19 230.5 L323.76 229.83 L323.3 229.37 L322.8 229.02 L322.28 228.64 L321.76 228.14 L321.2 227.52 L320.61 226.81 L319.96 226.02 L319.23 225.16 L318.4 224.21 L317.47 223.16 L316.48 222.02 L315.48 220.83 L314.5 219.62 L313.59 218.42 L312.76 217.23 L311.97 216.05 L311.23 214.91 L310.51 213.83 L309.81 212.81 L309.08 211.87 L308.31 210.95 L307.52 210.04 L306.71 209.12 L305.9 208.17 L305.1 207.18 L304.3 206.16 L303.52 205.13 L302.76 204.11 L302.01 203.11 L301.28 202.16 L300.55 201.27 L299.81 200.45 L299.07 199.66 L298.31 198.89 L297.55 198.14 L296.79 197.39 L296.05 196.66 L295.33 195.98 L294.61 195.38 L293.87 194.79 L293.15 194.15 L292.47 193.47 L291.85 192.71 L291.33 192.01 L290.84 191.43 L290.36 190.83 L289.91 190.1 L289.39 189.19 L287.18 187.26Z" fill="#00beff"/>
<path d="M288.24 181.5 L291.74 182.26 L293.2 183.13 L294.37 183.62 L295.5 183.96 L296.57 184.24 L297.53 184.51 L298.41 184.83 L299.28 185.21 L300.13 185.61 L300.96 186.03 L301.79 186.48 L302.61 186.95 L303.42 187.45 L304.23 187.96 L305.02 188.45 L305.81 188.95 L306.6 189.44 L307.37 189.93 L308.14 190.44 L308.91 190.97 L309.67 191.51 L310.43 192.06 L311.17 192.61 L311.91 193.16 L312.63 193.71 L313.34 194.26 L314.05 194.83 L314.75 195.44 L315.46 196.08 L316.18 196.77 L316.91 197.51 L317.63 198.28 L318.34 199.07 L319.04 199.87 L319.74 200.67 L320.45 201.46 L321.18 202.27 L321.93 203.11 L322.7 203.97 L323.46 204.82 L324.19 205.68 L324.88 206.51 L325.52 207.3 L326.14 208.06 L326.73 208.82 L327.31 209.6 L327.87 210.42 L328.41 211.28 L328.93 212.18 L329.45 213.13 L329.95 214.11 L330.41 215.11 L330.82 216.1 L331.18 217.08 L331.48 218.04 L331.74 218.99 L331.96 219.92 L332.15 220.83 L332.29 221.7 L332.43 222.56 L332.58 223.43 L332.73 224.35 L332.89 225.28 L333.1 226.26 L333.43 227.39 L333.93 228.92 L334.23 231.06 L333.64 233.26 L332.08 234.71 L330.1 234.99 L328.32 234.33 L326.87 233.05 L325.89 231.41 L325.35 230.13 L324.94 229.32 L324.52 228.76 L324.06 228.33 L323.56 227.98 L323.04 227.6 L322.52 227.13 L321.97 226.57 L321.38 225.92 L320.73 225.2 L320.01 224.38 L319.18 223.46 L318.25 222.43 L317.27 221.31 L316.27 220.14 L315.3 218.96 L314.4 217.79 L313.58 216.64 L312.8 215.49 L312.07 214.36 L311.35 213.27 L310.64 212.24 L309.9 211.25 L309.12 210.31 L308.32 209.37 L307.51 208.44 L306.7 207.49 L305.9 206.52 L305.11 205.52 L304.33 204.5 L303.58 203.49 L302.83 202.5 L302.09 201.54 L301.35 200.63 L300.61 199.77 L299.86 198.96 L299.1 198.17 L298.33 197.39 L297.58 196.63 L296.83 195.89 L296.11 195.2 L295.38 194.56 L294.64 193.95 L293.92 193.31 L293.24 192.64 L292.63 191.94 L292.11 191.28 L291.63 190.71 L291.15 190.14 L290.73 189.49 L290.29 188.76 L288.5 187.37Z" fill="#0082ff"/>
<path d="M290.21 184.67 L292.07 184.94 L293.16 185.32 L294.2 185.57 L295.28 185.79 L296.32 185.99 L297.25 186.19 L298.1 186.42 L298.94 186.68 L299.76 186.97 L300.58 187.29 L301.38 187.63 L302.19 188.01 L302.99 188.42 L303.79 188.85 L304.59 189.29 L305.37 189.75 L306.15 190.21 L306.93 190.68 L307.7 191.16 L308.46 191.66 L309.22 192.18 L309.97 192.71 L310.72 193.24 L311.45 193.79 L312.17 194.32 L312.88 194.86 L313.58 195.42 L314.28 196 L314.98 196.62 L315.69 197.29 L316.4 198 L317.11 198.75 L317.81 199.53 L318.51 200.33 L319.22 201.13 L319.92 201.93 L320.65 202.74 L321.41 203.58 L322.17 204.43 L322.93 205.29 L323.66 206.13 L324.34 206.95 L324.98 207.74 L325.59 208.49 L326.17 209.25 L326.73 210.01 L327.28 210.8 L327.8 211.64 L328.32 212.53 L328.82 213.46 L329.31 214.42 L329.76 215.39 L330.15 216.35 L330.49 217.29 L330.75 218.21 L330.97 219.12 L331.14 220.01 L331.27 220.88 L331.36 221.72 L331.43 222.53 L331.49 223.35 L331.53 224.19 L331.56 225.02 L331.61 225.86 L331.7 226.73 L331.86 227.77 L331.91 229.07 L331.47 230.37 L330.49 231.22 L329.27 231.41 L328.16 231.08 L327.22 230.38 L326.54 229.46 L326.08 228.69 L325.67 228.15 L325.25 227.72 L324.79 227.33 L324.29 226.97 L323.77 226.6 L323.25 226.16 L322.69 225.66 L322.1 225.09 L321.45 224.43 L320.73 223.66 L319.91 222.77 L318.98 221.76 L318 220.66 L317 219.51 L316.03 218.35 L315.14 217.22 L314.32 216.1 L313.56 214.98 L312.82 213.86 L312.11 212.77 L311.38 211.71 L310.64 210.7 L309.85 209.72 L309.05 208.77 L308.24 207.82 L307.43 206.87 L306.63 205.91 L305.84 204.93 L305.07 203.93 L304.31 202.93 L303.57 201.94 L302.83 200.97 L302.09 200.04 L301.34 199.16 L300.58 198.32 L299.82 197.5 L299.06 196.7 L298.3 195.93 L297.56 195.18 L296.83 194.47 L296.11 193.8 L295.37 193.15 L294.64 192.51 L293.96 191.86 L293.36 191.22 L292.84 190.61 L292.36 190.06 L291.88 189.51 L291.47 188.94 L291.11 188.36 L290.24 187.52Z" fill="#003cff"/>
<path d="M291.9 187.4 C292.48 187.02 295.35 187.43 297 187.7 C298.65 187.97 300.22 188.38 301.8 189 C303.38 189.62 304.97 190.5 306.5 191.4 C308.03 192.3 309.55 193.33 311 194.4 C312.45 195.47 313.8 196.47 315.2 197.8 C316.6 199.13 317.97 200.8 319.4 202.4 C320.83 204 322.5 205.8 323.8 207.4 C325.1 209 326.2 210.32 327.2 212 C328.2 213.68 329.27 215.75 329.8 217.5 C330.33 219.25 330.43 221 330.4 222.5 C330.37 224 330.07 225.67 329.6 226.5 C329.13 227.33 328.37 227.58 327.6 227.5 C326.83 227.42 326.03 226.75 325 226 C323.97 225.25 322.93 224.55 321.4 223 C319.87 221.45 317.48 218.83 315.8 216.7 C314.12 214.57 312.85 212.25 311.3 210.2 C309.75 208.15 308.05 206.33 306.5 204.4 C304.95 202.47 303.5 200.37 302 198.6 C300.5 196.83 298.92 195.23 297.5 193.8 C296.08 192.37 294.43 191.07 293.5 190 C292.57 188.93 291.32 187.78 291.9 187.4Z" fill="#0a0aff"/>
<path d="M304.9 196.1 C305.75 195.92 308.1 196.1 309.7 196.9 C311.3 197.7 312.92 199.7 314.5 200.9 C316.08 202.1 317.75 203 319.2 204.1 C320.65 205.2 322.15 206.52 323.2 207.5 C324.25 208.48 324.88 209 325.5 210 C326.12 211 326.77 212.25 326.9 213.5 C327.03 214.75 326.7 216.5 326.3 217.5 C325.9 218.5 325.13 219.42 324.5 219.5 C323.87 219.58 323.28 218.95 322.5 218 C321.72 217.05 320.88 215.22 319.8 213.8 C318.72 212.38 317.13 210.72 316 209.5 C314.87 208.28 314.05 207.5 313 206.5 C311.95 205.5 310.78 204.5 309.7 203.5 C308.62 202.5 307.35 201.42 306.5 200.5 C305.65 199.58 304.87 198.73 304.6 198 C304.33 197.27 304.05 196.28 304.9 196.1Z" fill="#8200ff"/>
<path d="M252 170 C253.5 168.83 259 171 262 171 C265 171 267.5 169.83 270 170 C272.5 170.17 275.33 170.5 277 172 C278.67 173.5 278.83 176.5 280 179 C281.17 181.5 282.67 184.17 284 187 C285.33 189.83 286.92 192.67 288 196 C289.08 199.33 290 203.33 290.5 207 C291 210.67 291.17 214.17 291 218 C290.83 221.83 290.08 226.17 289.5 230 C288.92 233.83 288.25 239.17 287.5 241 C286.75 242.83 285.58 242.83 285 241 C284.42 239.17 284.67 233.33 284 230 C283.33 226.67 282.17 224 281 221 C279.83 218 278.17 214.83 277 212 C275.83 209.17 275.17 206.5 274 204 C272.83 201.5 271.5 199.33 270 197 C268.5 194.67 266.83 192.33 265 190 C263.17 187.67 261 185 259 183 C257 181 254.17 180.17 253 178 C251.83 175.83 250.5 171.17 252 170Z" fill="#aaff00"/>
<path d="M250 179 C250.87 178.17 252.83 177.33 254 178 C255.17 178.67 256.58 181 257 183 C257.42 185 256.92 187.67 256.5 190 C256.08 192.33 255.33 196 254.5 197 C253.67 198 252.17 197.33 251.5 196 C250.83 194.67 250.95 191.17 250.5 189 C250.05 186.83 248.88 184.67 248.8 183 C248.72 181.33 249.13 179.83 250 179Z" fill="none" stroke="#8cff00" stroke-width="1.6"/>
<path d="M253.6 193.5 C253.9 191 255.23 191 255.6 193.5 C255.97 196 256.1 206 255.8 208.5 C255.5 211 254.17 211 253.8 208.5 C253.43 206 253.3 196 253.6 193.5Z" fill="#8cff00"/>
<path d="M262.2 210 C262.53 208.67 264.03 208.67 264.4 210 C264.77 211.33 264.73 216.67 264.4 218 C264.07 219.33 262.77 219.33 262.4 218 C262.03 216.67 261.87 211.33 262.2 210Z" fill="#8cff00"/>
<path d="M287 236 C287.37 234.83 289.03 234.83 289.4 236 C289.77 237.17 289.57 241.83 289.2 243 C288.83 244.17 287.57 244.17 287.2 243 C286.83 241.83 286.63 237.17 287 236Z" fill="#a0ff00"/>
<path d="M237.51 165.4 L237.67 165.4 L237.88 165.4 L238.12 165.4 L238.4 165.41 L238.68 165.41 L238.96 165.41 L239.23 165.4 L239.47 165.4 L239.7 165.4 L239.9 165.39 L240.08 165.39 L240.24 165.39 L240.41 165.38 L240.59 165.37 L240.82 165.35 L241.1 165.31 L241.43 165.26 L241.82 165.2 L242.25 165.12 L242.73 165.03 L243.24 164.94 L243.76 164.85 L244.3 164.77 L244.83 164.71 L245.33 164.65 L245.84 164.59 L246.38 164.53 L246.94 164.48 L247.53 164.44 L248.14 164.43 L248.77 164.45 L249.41 164.51 L250.04 164.63 L250.66 164.77 L251.26 164.95 L251.85 165.15 L252.42 165.36 L252.98 165.57 L253.53 165.79 L254.08 166.02 L254.66 166.27 L255.24 166.56 L255.79 166.85 L256.31 167.13 L256.8 167.39 L257.28 167.62 L257.72 167.82 L258.16 167.97 L258.62 168.1 L259.11 168.22 L259.61 168.32 L260.1 168.4 L260.59 168.46 L261.06 168.5 L261.51 168.51 L261.91 168.5 L262.27 168.47 L262.61 168.4 L262.96 168.31 L263.33 168.2 L263.71 168.06 L264.12 167.9 L264.56 167.74 L264.98 167.59 L265.32 167.46 L265.64 167.31 L266.01 167.11 L266.43 166.89 L266.92 166.66 L267.48 166.45 L268.12 166.28 L268.83 166.2 L269.57 166.22 L270.29 166.3 L270.99 166.43 L271.69 166.59 L272.36 166.75 L273.01 166.9 L273.62 167.02 L274.19 167.11 L274.78 167.18 L275.39 167.23 L276 167.27 L276.62 167.31 L277.23 167.34 L277.84 167.36 L278.45 167.38 L279.04 167.4 L279.6 167.41 L280.16 167.41 L280.72 167.4 L281.28 167.39 L281.85 167.38 L282.42 167.37 L283 167.38 L283.58 167.4 L284.15 167.44 L284.7 167.49 L285.25 167.54 L285.79 167.61 L286.32 167.68 L286.84 167.75 L287.33 167.84 L287.8 167.93 L288.23 168.02 L288.64 168.12 L289.02 168.22 L289.4 168.33 L289.78 168.46 L290.16 168.6 L290.54 168.76 L290.93 168.94 L291.34 169.13 L291.75 169.34 L292.17 169.57 L292.6 169.81 L293.04 170.07 L293.48 170.36 L293.93 170.66 L294.4 171 L294.89 171.39 L295.4 171.82 L295.91 172.27 L296.41 172.72 L296.9 173.16 L297.36 173.57 L297.77 173.93 L298.13 174.22 L298.45 174.47 L298.75 174.69 L299.01 174.87 L299.24 175.02 L299.45 175.14 L299.63 175.23 L299.81 175.31 L299.97 175.38 L300.08 175.41 L300.16 175.42 L300.27 175.42 L300.43 175.42 L300.64 175.41 L300.92 175.39 L301.25 175.39 L301.59 175.4 L301.89 175.43 L302.18 175.44 L302.5 175.46 L302.85 175.49 L303.22 175.52 L303.61 175.58 L304.01 175.65 L304.42 175.76 L304.8 175.88 L305.16 176.02 L305.53 176.16 L305.89 176.33 L306.25 176.51 L306.6 176.71 L306.96 176.92 L307.33 177.15 L307.69 177.4 L308.04 177.65 L308.37 177.92 L308.71 178.2 L309.04 178.48 L309.39 178.79 L309.76 179.11 L310.17 179.46 L310.63 179.84 L311.13 180.27 L311.67 180.72 L312.23 181.2 L312.8 181.69 L313.38 182.19 L313.95 182.69 L314.51 183.19 L315.05 183.68 L315.58 184.18 L316.11 184.68 L316.64 185.19 L317.16 185.69 L317.69 186.2 L318.21 186.71 L318.74 187.22 L319.27 187.74 L319.81 188.25 L320.35 188.77 L320.89 189.3 L321.43 189.83 L321.98 190.36 L322.52 190.9 L323.06 191.44 L323.61 191.99 L324.16 192.54 L324.71 193.11 L325.26 193.67 L325.81 194.23 L326.34 194.79 L326.87 195.33 L327.38 195.86 L327.87 196.37 L328.35 196.86 L328.83 197.35 L329.3 197.83 L329.76 198.32 L330.22 198.81 L330.68 199.31 L331.13 199.81 L331.55 200.29 L331.95 200.76 L332.35 201.22 L332.74 201.7 L333.14 202.19 L333.55 202.72 L333.97 203.3 L334.43 203.94 L334.92 204.66 L335.45 205.46 L335.99 206.31 L336.54 207.18 L337.08 208.05 L337.61 208.89 L338.11 209.68 L338.56 210.38 L338.96 211 L339.34 211.55 L339.71 212.07 L340.06 212.58 L340.42 213.09 L340.78 213.64 L341.14 214.22 L341.51 214.87 L341.89 215.57 L342.26 216.3 L342.63 217.05 L342.99 217.81 L343.35 218.59 L343.7 219.37 L344.04 220.14 L344.37 220.9 L344.7 221.65 L345.02 222.41 L345.34 223.17 L345.65 223.93 L345.96 224.7 L346.25 225.47 L346.54 226.23 L346.82 227.01 L347.08 227.78 L347.33 228.55 L347.56 229.32 L347.79 230.08 L348.01 230.84 L348.22 231.59 L348.43 232.34 L348.64 233.09 L348.85 233.84 L349.06 234.59 L349.27 235.33 L349.47 236.08 L349.67 236.83 L349.87 237.59 L350.07 238.36 L350.26 239.15 L350.45 239.94 L350.63 240.75 L350.81 241.55 L350.99 242.37 L351.17 243.2 L351.34 244.03 L351.51 244.87 L351.67 245.71 L351.83 246.55 L351.99 247.38 L352.15 248.22 L352.3 249.06 L352.45 249.94 L352.6 250.84 L352.75 251.79 L352.89 252.8 L353.03 253.89 L353.17 255.06 L353.31 256.29 L353.44 257.54 L353.57 258.79 L353.69 259.99 L353.8 261.13 L353.89 262.17 L353.97 263.1 L354.04 263.95 L354.1 264.74 L354.15 265.48 L354.19 266.21 L354.23 266.93 L354.26 267.66 L354.3 268.43 L354.33 269.25 L354.37 270.11 L354.4 270.98 L354.42 271.84 L354.45 272.69 L354.47 273.51 L354.49 274.27 L354.5 274.97 L354.51 275.63 L354.51 276.26 L354.51 276.86 L354.51 277.41 L354.51 277.92 L354.5 278.35 L354.5 278.72 L354.5 279.01 L343.5 278.96 L343.5 278.64 L343.51 278.25 L343.51 277.82 L343.51 277.35 L343.51 276.85 L343.51 276.31 L343.51 275.75 L343.5 275.17 L343.49 274.51 L343.47 273.77 L343.45 272.98 L343.43 272.17 L343.4 271.34 L343.38 270.51 L343.34 269.71 L343.31 268.93 L343.27 268.19 L343.24 267.48 L343.21 266.81 L343.17 266.15 L343.12 265.48 L343.07 264.78 L343.01 264.01 L342.94 263.15 L342.85 262.16 L342.74 261.06 L342.63 259.9 L342.5 258.7 L342.37 257.5 L342.24 256.33 L342.11 255.25 L341.99 254.27 L341.86 253.39 L341.73 252.55 L341.6 251.76 L341.47 250.98 L341.33 250.21 L341.18 249.43 L341.03 248.63 L340.87 247.81 L340.72 247.01 L340.56 246.22 L340.4 245.45 L340.24 244.69 L340.07 243.93 L339.91 243.19 L339.74 242.45 L339.56 241.72 L339.39 241.02 L339.22 240.32 L339.04 239.63 L338.85 238.94 L338.66 238.24 L338.47 237.54 L338.27 236.82 L338.06 236.08 L337.84 235.32 L337.74 234.55 L337.68 233.79 L337.62 233.05 L337.55 232.34 L337.49 231.65 L337.43 230.98 L337.35 230.31 L337.26 229.62 L337.16 228.91 L337.04 228.19 L336.9 227.46 L336.76 226.72 L336.61 225.96 L336.45 225.2 L336.27 224.43 L336.09 223.65 L335.91 222.86 L335.72 222.07 L335.54 221.3 L335.35 220.55 L335.17 219.84 L335 219.18 L334.77 218.61 L334.5 218.18 L334.25 217.79 L333.99 217.41 L333.69 217 L333.34 216.53 L332.94 215.99 L332.49 215.36 L332 214.65 L331.49 213.88 L330.95 213.06 L330.4 212.23 L329.85 211.38 L329.3 210.56 L328.78 209.79 L328.3 209.1 L327.88 208.51 L327.5 208.01 L327.15 207.56 L326.82 207.15 L326.5 206.77 L326.17 206.4 L325.83 206.01 L325.45 205.6 L325.05 205.16 L324.66 204.74 L324.27 204.34 L323.86 203.92 L323.43 203.49 L322.97 203.04 L322.49 202.57 L321.99 202.08 L321.47 201.57 L320.95 201.05 L320.42 200.52 L319.88 199.99 L319.33 199.45 L318.78 198.91 L318.24 198.38 L317.69 197.85 L317.16 197.34 L316.63 196.84 L316.09 196.33 L315.56 195.83 L315.02 195.33 L314.48 194.82 L313.94 194.32 L313.4 193.82 L312.85 193.32 L312.31 192.81 L311.77 192.31 L311.24 191.82 L310.72 191.35 L310.21 190.88 L309.71 190.43 L309.22 189.99 L308.73 189.56 L308.23 189.14 L307.7 188.69 L307.16 188.24 L306.6 187.79 L306.06 187.34 L305.52 186.91 L305.02 186.51 L304.53 186.12 L304.07 185.74 L303.67 185.4 L303.32 185.12 L303.05 184.9 L302.84 184.73 L302.69 184.62 L302.58 184.55 L302.48 184.5 L302.36 184.43 L302.24 184.37 L302.14 184.32 L302.07 184.29 L302.01 184.27 L301.96 184.26 L301.92 184.25 L301.95 184.27 L302.07 184.31 L302.17 184.34 L302.18 184.34 L302.09 184.34 L301.91 184.34 L301.65 184.33 L301.29 184.31 L301.04 184.3 L301.11 184.31 L301.24 184.31 L301.15 184.33 L300.78 184.35 L300.14 184.37 L299.24 184.32 L298.16 184.15 L297.15 183.88 L296.37 183.59 L295.72 183.31 L295.09 182.99 L294.52 182.66 L294 182.33 L293.52 182.01 L293.19 181.53 L292.82 180.99 L292.39 180.33 L292 179.63 L291.67 178.94 L291.38 178.26 L291.13 177.61 L290.91 177.01 L290.74 176.49 L290.61 176.05 L290.46 175.63 L290.28 175.22 L290.08 174.83 L289.89 174.45 L289.68 174.09 L289.46 173.74 L289.24 173.4 L289.01 173.08 L288.79 172.77 L288.6 172.51 L288.42 172.26 L288.23 172.03 L288.02 171.8 L287.78 171.56 L287.5 171.31 L287.17 171.05 L286.8 170.76 L286.4 170.47 L285.97 170.17 L285.51 169.87 L285.03 169.57 L284.54 169.27 L284.03 168.97 L283.5 168.9 L282.96 168.88 L282.42 168.87 L281.87 168.88 L281.31 168.89 L280.75 168.9 L280.17 168.91 L279.59 168.91 L279 168.9 L278.4 168.88 L277.79 168.86 L277.17 168.84 L276.54 168.81 L275.9 168.77 L275.27 168.72 L274.63 168.67 L274 168.6 L273.36 168.5 L272.69 168.37 L272.02 168.21 L271.35 168.05 L270.69 167.9 L270.06 167.78 L269.46 167.71 L268.9 167.7 L268.39 167.76 L267.93 167.88 L267.5 168.04 L267.1 168.23 L266.71 168.44 L266.32 168.64 L265.92 168.84 L265.5 169 L265.07 169.15 L264.65 169.31 L264.23 169.47 L263.81 169.62 L263.38 169.76 L262.93 169.87 L262.48 169.95 L262 170 L261.5 170.01 L260.98 170 L260.44 169.95 L259.89 169.89 L259.34 169.8 L258.79 169.69 L258.24 169.55 L257.7 169.4 L257.17 169.21 L256.65 168.98 L256.12 168.73 L255.6 168.45 L255.08 168.17 L254.55 167.89 L254.03 167.63 L253.5 167.4 L252.97 167.19 L252.43 166.97 L251.89 166.76 L251.35 166.56 L250.81 166.38 L250.27 166.22 L249.73 166.09 L249.2 166 L248.67 165.95 L248.13 165.93 L247.6 165.94 L247.06 165.97 L246.53 166.03 L246.01 166.08 L245.5 166.14 L245 166.2 L244.5 166.26 L244 166.33 L243.49 166.42 L243 166.51 L242.53 166.59 L242.08 166.68 L241.67 166.75 L241.3 166.8 L240.99 166.84 L240.72 166.86 L240.49 166.88 L240.29 166.89 L240.11 166.89 L239.92 166.89 L239.72 166.9 L239.5 166.9 L239.25 166.9 L238.97 166.91 L238.68 166.91 L238.39 166.91 L238.11 166.9 L237.86 166.9 L237.66 166.9 L237.5 166.9Z" fill="#14ff00"/>
<path d="M237.51 165.4 L237.67 165.4 L237.88 165.4 L238.12 165.4 L238.4 165.41 L238.68 165.41 L238.96 165.41 L239.23 165.4 L239.47 165.4 L239.7 165.4 L239.9 165.39 L240.08 165.39 L240.24 165.39 L240.41 165.38 L240.59 165.37 L240.82 165.35 L241.1 165.31 L241.43 165.26 L241.82 165.2 L242.25 165.12 L242.73 165.03 L243.24 164.94 L243.76 164.85 L244.3 164.77 L244.83 164.71 L245.33 164.65 L245.84 164.59 L246.38 164.53 L246.94 164.48 L247.53 164.44 L248.14 164.43 L248.77 164.45 L249.41 164.51 L250.04 164.63 L250.66 164.77 L251.26 164.95 L251.85 165.15 L252.42 165.36 L252.98 165.57 L253.53 165.79 L254.08 166.02 L254.66 166.27 L255.24 166.56 L255.79 166.85 L256.31 167.13 L256.8 167.39 L257.28 167.62 L257.72 167.82 L258.16 167.97 L258.62 168.1 L259.11 168.22 L259.61 168.32 L260.1 168.4 L260.59 168.46 L261.06 168.5 L261.51 168.51 L261.91 168.5 L262.27 168.47 L262.61 168.4 L262.96 168.31 L263.33 168.2 L263.71 168.06 L264.12 167.9 L264.56 167.74 L264.98 167.59 L265.32 167.46 L265.64 167.31 L266.01 167.11 L266.43 166.89 L266.92 166.66 L267.48 166.45 L268.12 166.28 L268.83 166.2 L269.57 166.22 L270.29 166.3 L270.99 166.43 L271.69 166.59 L272.36 166.75 L273.01 166.9 L273.62 167.02 L274.19 167.11 L274.78 167.18 L275.39 167.23 L276 167.27 L276.62 167.31 L277.23 167.34 L277.84 167.36 L278.45 167.38 L279.04 167.4 L279.6 167.41 L280.16 167.41 L280.72 167.4 L281.28 167.39 L281.85 167.38 L282.42 167.37 L283 167.38 L283.58 167.4 L284.15 167.44 L284.7 167.49 L285.25 167.54 L285.79 167.61 L286.32 167.68 L286.84 167.75 L287.33 167.84 L287.8 167.93 L288.23 168.02 L288.64 168.12 L289.02 168.22 L289.4 168.33 L289.78 168.46 L290.16 168.6 L290.54 168.76 L290.93 168.94 L291.34 169.13 L291.75 169.34 L292.17 169.57 L292.6 169.81 L293.04 170.07 L293.48 170.36 L293.93 170.66 L294.4 171 L294.89 171.39 L295.4 171.82 L295.91 172.27 L296.41 172.72 L296.9 173.16 L297.36 173.57 L297.77 173.93 L298.13 174.22 L298.45 174.47 L298.75 174.69 L299.01 174.87 L299.24 175.02 L299.45 175.14 L299.63 175.23 L299.81 175.31 L299.97 175.38 L300.08 175.41 L300.16 175.42 L300.27 175.42 L300.43 175.42 L300.64 175.41 L300.92 175.39 L301.25 175.39 L301.59 175.4 L301.89 175.43 L302.18 175.44 L302.5 175.46 L302.85 175.49 L303.22 175.52 L303.61 175.58 L304.01 175.65 L304.42 175.76 L304.8 175.88 L305.16 176.02 L305.53 176.16 L305.89 176.33 L306.25 176.51 L306.6 176.71 L306.96 176.92 L307.33 177.15 L307.69 177.4 L308.04 177.65 L308.37 177.92 L308.71 178.2 L309.04 178.48 L309.39 178.79 L309.76 179.11 L310.17 179.46 L310.63 179.84 L311.13 180.27 L311.67 180.72 L312.23 181.2 L312.8 181.69 L313.38 182.19 L313.95 182.69 L314.51 183.19 L315.05 183.68 L315.58 184.18 L316.11 184.68 L316.64 185.19 L317.16 185.69 L317.69 186.2 L318.21 186.71 L318.74 187.22 L319.27 187.74 L319.81 188.25 L320.35 188.77 L320.89 189.3 L321.43 189.83 L321.98 190.36 L322.52 190.9 L323.06 191.44 L323.61 191.99 L324.16 192.54 L324.71 193.11 L325.26 193.67 L325.81 194.23 L326.34 194.79 L326.87 195.33 L327.38 195.86 L327.87 196.37 L328.35 196.86 L328.83 197.35 L329.3 197.83 L329.76 198.32 L330.22 198.81 L330.68 199.31 L331.13 199.81 L331.55 200.29 L331.95 200.76 L332.35 201.22 L332.74 201.7 L333.14 202.19 L333.55 202.72 L333.97 203.3 L334.43 203.94 L334.92 204.66 L335.45 205.46 L335.99 206.31 L336.54 207.18 L337.08 208.05 L337.61 208.89 L338.11 209.68 L338.56 210.38 L338.96 211 L339.34 211.55 L339.71 212.07 L340.06 212.58 L340.42 213.09 L340.78 213.64 L341.14 214.22 L341.51 214.87 L341.89 215.57 L342.26 216.3 L342.63 217.05 L342.99 217.81 L343.35 218.59 L343.7 219.37 L344.04 220.14 L344.37 220.9 L344.7 221.65 L345.02 222.41 L345.34 223.17 L345.65 223.93 L345.96 224.7 L346.25 225.47 L346.54 226.23 L346.82 227.01 L347.08 227.78 L347.33 228.55 L347.56 229.32 L347.79 230.08 L348.01 230.84 L348.22 231.59 L348.43 232.34 L348.64 233.09 L348.85 233.84 L349.06 234.59 L349.27 235.33 L349.47 236.08 L349.67 236.83 L349.87 237.59 L350.07 238.36 L350.26 239.15 L350.45 239.94 L350.63 240.75 L350.81 241.55 L350.99 242.37 L351.17 243.2 L351.34 244.03 L351.51 244.87 L351.67 245.71 L351.83 246.55 L351.99 247.38 L352.15 248.22 L352.3 249.06 L352.45 249.94 L352.6 250.84 L352.75 251.79 L352.89 252.8 L353.03 253.89 L353.17 255.06 L353.31 256.29 L353.44 257.54 L353.57 258.79 L353.69 259.99 L353.8 261.13 L353.89 262.17 L353.97 263.1 L354.04 263.95 L354.1 264.74 L354.15 265.48 L354.19 266.21 L354.23 266.93 L354.26 267.66 L354.3 268.43 L354.33 269.25 L354.37 270.11 L354.4 270.98 L354.42 271.84 L354.45 272.69 L354.47 273.51 L354.49 274.27 L354.5 274.97 L354.51 275.63 L354.51 276.26 L354.51 276.86 L354.51 277.41 L354.51 277.92 L354.5 278.35 L354.5 278.72 L354.5 279.01 L346.3 278.97 L346.3 278.66 L346.3 278.28 L346.31 277.85 L346.31 277.37 L346.31 276.85 L346.31 276.3 L346.31 275.72 L346.3 275.12 L346.29 274.45 L346.27 273.7 L346.25 272.91 L346.23 272.08 L346.2 271.24 L346.17 270.41 L346.14 269.59 L346.11 268.81 L346.07 268.05 L346.04 267.34 L346 266.66 L345.96 265.98 L345.92 265.29 L345.87 264.57 L345.8 263.78 L345.73 262.9 L345.63 261.9 L345.53 260.79 L345.41 259.61 L345.29 258.4 L345.16 257.19 L345.02 256.01 L344.89 254.9 L344.76 253.89 L344.63 252.98 L344.5 252.12 L344.37 251.29 L344.23 250.49 L344.08 249.7 L343.94 248.91 L343.78 248.1 L343.62 247.28 L343.46 246.46 L343.3 245.67 L343.14 244.88 L342.98 244.1 L342.81 243.33 L342.64 242.56 L342.46 241.81 L342.29 241.07 L342.11 240.34 L341.93 239.63 L341.74 238.92 L341.56 238.21 L341.36 237.5 L341.16 236.79 L340.96 236.06 L340.75 235.32 L340.54 234.56 L340.33 233.82 L340.12 233.09 L339.92 232.38 L339.71 231.69 L339.59 230.99 L339.47 230.3 L339.34 229.61 L339.2 228.92 L339.03 228.2 L338.86 227.48 L338.67 226.75 L338.48 226.01 L338.27 225.26 L338.06 224.51 L337.84 223.75 L337.61 222.98 L337.38 222.2 L337.14 221.42 L336.9 220.66 L336.66 219.92 L336.43 219.22 L336.19 218.55 L335.97 217.95 L335.77 217.42 L335.57 216.95 L335.36 216.49 L335.12 216.01 L334.84 215.48 L334.52 214.89 L334.17 214.23 L333.79 213.49 L333.39 212.67 L332.97 211.8 L332.5 210.91 L331.96 210.05 L331.42 209.21 L330.91 208.41 L330.42 207.68 L329.98 207.04 L329.59 206.49 L329.21 206 L328.86 205.55 L328.52 205.13 L328.18 204.72 L327.82 204.3 L327.44 203.86 L327.04 203.41 L326.63 202.96 L326.23 202.52 L325.81 202.07 L325.37 201.62 L324.91 201.15 L324.44 200.67 L323.95 200.17 L323.45 199.66 L322.93 199.13 L322.41 198.6 L321.88 198.05 L321.34 197.5 L320.79 196.95 L320.25 196.4 L319.71 195.86 L319.18 195.32 L318.65 194.8 L318.11 194.28 L317.58 193.76 L317.05 193.25 L316.51 192.73 L315.98 192.22 L315.44 191.7 L314.91 191.19 L314.37 190.68 L313.84 190.17 L313.32 189.67 L312.81 189.18 L312.3 188.69 L311.79 188.22 L311.29 187.75 L310.78 187.3 L310.27 186.84 L309.73 186.37 L309.18 185.9 L308.62 185.42 L308.07 184.96 L307.54 184.52 L307.04 184.1 L306.57 183.71 L306.13 183.34 L305.74 183 L305.4 182.71 L305.11 182.46 L304.85 182.25 L304.64 182.08 L304.45 181.94 L304.25 181.81 L304.04 181.68 L303.84 181.56 L303.65 181.46 L303.47 181.37 L303.3 181.3 L303.14 181.23 L302.98 181.17 L302.86 181.14 L302.79 181.12 L302.7 181.12 L302.56 181.12 L302.37 181.12 L302.13 181.13 L301.84 181.13 L301.5 181.13 L301.24 181.13 L301.16 181.14 L301.13 181.16 L300.97 181.18 L300.66 181.22 L300.19 181.24 L299.56 181.22 L298.83 181.12 L298.13 180.94 L297.55 180.75 L297.06 180.54 L296.58 180.32 L296.12 180.07 L295.69 179.82 L295.27 179.56 L294.86 179.29 L294.4 178.97 L293.86 178.58 L293.31 178.15 L292.77 177.72 L292.25 177.31 L291.75 176.91 L291.3 176.57 L290.91 176.29 L290.59 176.08 L290.27 175.9 L289.95 175.72 L289.63 175.56 L289.33 175.41 L289.02 175.29 L288.69 175.22 L288.37 175.16 L288.06 175.11 L287.79 175.08 L287.58 175.07 L287.41 175.09 L287.25 175.11 L287.09 175.13 L286.89 175.16 L286.63 175.18 L286.32 175.2 L285.98 175.23 L285.62 175.27 L285.23 175.31 L284.82 175.36 L284.4 175.42 L283.96 175.49 L283.53 175.57 L283.13 175.65 L282.79 175.75 L282.41 175.86 L281.97 175.98 L281.46 176.1 L280.89 176.23 L280.24 176.36 L279.53 176.53 L278.8 176.7 L278.14 176.88 L277.49 177.05 L276.8 177.22 L276.09 177.39 L275.34 177.55 L274.55 177.7 L273.74 177.84 L272.78 177.94 L271.66 177.98 L270.59 177.98 L269.72 178.01 L269.03 178.07 L268.58 178.19 L268.42 178.37 L268.66 178.59 L269.4 178.77 L270.42 178.82 L271.36 178.75 L272.02 178.67 L272.33 178.69 L272.23 178.9 L271.72 179.33 L270.71 179.85 L269.68 180.27 L269.18 180.45 L268.89 180.57 L268.38 180.77 L267.66 181.04 L266.71 181.35 L265.53 181.65 L264.15 181.91 L262.71 182.07 L261.44 182.11 L260.32 182.08 L259.24 182.01 L258.19 181.89 L257.17 181.74 L256.15 181.55 L255.14 181.31 L254.01 181 L252.71 180.55 L251.51 180.04 L250.57 179.59 L249.84 179.22 L249.31 178.95 L248.98 178.78 L248.86 178.74 L248.76 178.71 L248.4 178.57 L247.92 178.39 L247.55 178.26 L247.28 178.17 L247.12 178.13 L247.09 178.13 L247.21 178.17 L247.5 178.23 L247.84 178.27 L248.07 178.3 L248.14 178.31 L248.05 178.32 L247.82 178.36 L247.44 178.41 L246.91 178.48 L246.41 178.55 L246.14 178.59 L245.93 178.63 L245.62 178.69 L245.24 178.77 L244.79 178.86 L244.26 178.97 L243.63 179.08 L242.95 179.19 L242.33 179.26 L241.77 179.32 L241.22 179.36 L240.72 179.38 L240.31 179.39 L240.05 179.39 L239.91 179.39 L239.74 179.4 L239.41 179.4 L239.02 179.41 L238.66 179.41 L238.32 179.41 L238.02 179.4 L237.76 179.4 L237.58 179.4 L237.45 179.4Z" fill="#aaff00"/>
<path d="M237.51 165.4 L237.67 165.4 L237.88 165.4 L238.12 165.4 L238.4 165.41 L238.68 165.41 L238.96 165.41 L239.23 165.4 L239.47 165.4 L239.7 165.4 L239.9 165.39 L240.08 165.39 L240.24 165.39 L240.41 165.38 L240.59 165.37 L240.82 165.35 L241.1 165.31 L241.43 165.26 L241.82 165.2 L242.25 165.12 L242.73 165.03 L243.24 164.94 L243.76 164.85 L244.3 164.77 L244.83 164.71 L245.33 164.65 L245.84 164.59 L246.38 164.53 L246.94 164.48 L247.53 164.44 L248.14 164.43 L248.77 164.45 L249.41 164.51 L250.04 164.63 L250.66 164.77 L251.26 164.95 L251.85 165.15 L252.42 165.36 L252.98 165.57 L253.53 165.79 L254.08 166.02 L254.66 166.27 L255.24 166.56 L255.79 166.85 L256.31 167.13 L256.8 167.39 L257.28 167.62 L257.72 167.82 L258.16 167.97 L258.62 168.1 L259.11 168.22 L259.61 168.32 L260.1 168.4 L260.59 168.46 L261.06 168.5 L261.51 168.51 L261.91 168.5 L262.27 168.47 L262.61 168.4 L262.96 168.31 L263.33 168.2 L263.71 168.06 L264.12 167.9 L264.56 167.74 L264.98 167.59 L265.32 167.46 L265.64 167.31 L266.01 167.11 L266.43 166.89 L266.92 166.66 L267.48 166.45 L268.12 166.28 L268.83 166.2 L269.57 166.22 L270.29 166.3 L270.99 166.43 L271.69 166.59 L272.36 166.75 L273.01 166.9 L273.62 167.02 L274.19 167.11 L274.78 167.18 L275.39 167.23 L276 167.27 L276.62 167.31 L277.23 167.34 L277.84 167.36 L278.45 167.38 L279.04 167.4 L279.6 167.41 L280.16 167.41 L280.72 167.4 L281.28 167.39 L281.85 167.38 L282.42 167.37 L283 167.38 L283.58 167.4 L284.15 167.44 L284.7 167.49 L285.25 167.54 L285.79 167.61 L286.32 167.68 L286.84 167.75 L287.33 167.84 L287.8 167.93 L288.23 168.02 L288.64 168.12 L289.02 168.22 L289.4 168.33 L289.78 168.46 L290.16 168.6 L290.54 168.76 L290.93 168.94 L291.34 169.13 L291.75 169.34 L292.17 169.57 L292.6 169.81 L293.04 170.07 L293.48 170.36 L293.93 170.66 L294.4 171 L294.89 171.39 L295.4 171.82 L295.91 172.27 L296.41 172.72 L296.9 173.16 L297.36 173.57 L297.77 173.93 L298.13 174.22 L298.45 174.47 L298.75 174.69 L299.01 174.87 L299.24 175.02 L299.45 175.14 L299.63 175.23 L299.81 175.31 L299.97 175.38 L300.08 175.41 L300.16 175.42 L300.27 175.42 L300.43 175.42 L300.64 175.41 L300.92 175.39 L301.25 175.39 L301.59 175.4 L301.89 175.43 L302.18 175.44 L302.5 175.46 L302.85 175.49 L303.22 175.52 L303.61 175.58 L304.01 175.65 L304.42 175.76 L304.8 175.88 L305.16 176.02 L305.53 176.16 L305.89 176.33 L306.25 176.51 L306.6 176.71 L306.96 176.92 L307.33 177.15 L307.69 177.4 L308.04 177.65 L308.37 177.92 L308.71 178.2 L309.04 178.48 L309.39 178.79 L309.76 179.11 L310.17 179.46 L310.63 179.84 L311.13 180.27 L311.67 180.72 L312.23 181.2 L312.8 181.69 L313.38 182.19 L313.95 182.69 L314.51 183.19 L315.05 183.68 L315.58 184.18 L316.11 184.68 L316.64 185.19 L317.16 185.69 L317.69 186.2 L318.21 186.71 L318.74 187.22 L319.27 187.74 L319.81 188.25 L320.35 188.77 L320.89 189.3 L321.43 189.83 L321.98 190.36 L322.52 190.9 L323.06 191.44 L323.61 191.99 L324.16 192.54 L324.71 193.11 L325.26 193.67 L325.81 194.23 L326.34 194.79 L326.87 195.33 L327.38 195.86 L327.87 196.37 L328.35 196.86 L328.83 197.35 L329.3 197.83 L329.76 198.32 L330.22 198.81 L330.68 199.31 L331.13 199.81 L331.55 200.29 L331.95 200.76 L332.35 201.22 L332.74 201.7 L333.14 202.19 L333.55 202.72 L333.97 203.3 L334.43 203.94 L334.92 204.66 L335.45 205.46 L335.99 206.31 L336.54 207.18 L337.08 208.05 L337.61 208.89 L338.11 209.68 L338.56 210.38 L338.96 211 L339.34 211.55 L339.71 212.07 L340.06 212.58 L340.42 213.09 L340.78 213.64 L341.14 214.22 L341.51 214.87 L341.89 215.57 L342.26 216.3 L342.63 217.05 L342.99 217.81 L343.35 218.59 L343.7 219.37 L344.04 220.14 L344.37 220.9 L344.7 221.65 L345.02 222.41 L345.34 223.17 L345.65 223.93 L345.96 224.7 L346.25 225.47 L346.54 226.23 L346.82 227.01 L347.08 227.78 L347.33 228.55 L347.56 229.32 L347.79 230.08 L348.01 230.84 L348.22 231.59 L348.43 232.34 L348.64 233.09 L348.85 233.84 L349.06 234.59 L349.27 235.33 L349.47 236.08 L349.67 236.83 L349.87 237.59 L350.07 238.36 L350.26 239.15 L350.45 239.94 L350.63 240.75 L350.81 241.55 L350.99 242.37 L351.17 243.2 L351.34 244.03 L351.51 244.87 L351.67 245.71 L351.83 246.55 L351.99 247.38 L352.15 248.22 L352.3 249.06 L352.45 249.94 L352.6 250.84 L352.75 251.79 L352.89 252.8 L353.03 253.89 L353.17 255.06 L353.31 256.29 L353.44 257.54 L353.57 258.79 L353.69 259.99 L353.8 261.13 L353.89 262.17 L353.97 263.1 L354.04 263.95 L354.1 264.74 L354.15 265.48 L354.19 266.21 L354.23 266.93 L354.26 267.66 L354.3 268.43 L354.33 269.25 L354.37 270.11 L354.4 270.98 L354.42 271.84 L354.45 272.69 L354.47 273.51 L354.49 274.27 L354.5 274.97 L354.51 275.63 L354.51 276.26 L354.51 276.86 L354.51 277.41 L354.51 277.92 L354.5 278.35 L354.5 278.72 L354.5 279.01 L348.6 278.98 L348.6 278.68 L348.6 278.3 L348.61 277.87 L348.61 277.38 L348.61 276.85 L348.61 276.29 L348.61 275.7 L348.6 275.08 L348.59 274.4 L348.57 273.65 L348.55 272.85 L348.53 272.02 L348.5 271.17 L348.47 270.32 L348.44 269.5 L348.4 268.7 L348.37 267.94 L348.33 267.22 L348.3 266.53 L348.26 265.84 L348.21 265.14 L348.16 264.39 L348.1 263.59 L348.02 262.69 L347.92 261.68 L347.82 260.57 L347.7 259.38 L347.57 258.16 L347.44 256.94 L347.31 255.74 L347.17 254.62 L347.04 253.59 L346.91 252.65 L346.77 251.76 L346.63 250.91 L346.49 250.09 L346.35 249.28 L346.2 248.48 L346.04 247.66 L345.88 246.84 L345.72 246.02 L345.56 245.21 L345.39 244.41 L345.22 243.61 L345.05 242.83 L344.88 242.05 L344.7 241.29 L344.52 240.53 L344.34 239.79 L344.16 239.06 L343.97 238.33 L343.78 237.61 L343.58 236.89 L343.38 236.17 L343.18 235.44 L342.97 234.69 L342.75 233.94 L342.54 233.19 L342.33 232.46 L342.13 231.73 L341.92 231.02 L341.74 230.31 L341.55 229.61 L341.36 228.91 L341.15 228.2 L340.93 227.48 L340.69 226.76 L340.45 226.03 L340.2 225.3 L339.93 224.56 L339.66 223.82 L339.39 223.08 L339.1 222.32 L338.81 221.56 L338.52 220.8 L338.22 220.05 L337.92 219.32 L337.62 218.61 L337.33 217.95 L337.05 217.35 L336.79 216.82 L336.53 216.34 L336.27 215.88 L335.98 215.41 L335.67 214.9 L335.32 214.34 L334.93 213.72 L334.51 213.01 L334.07 212.24 L333.6 211.4 L333.1 210.54 L332.55 209.68 L332.02 208.83 L331.49 208.03 L331 207.29 L330.56 206.64 L330.15 206.08 L329.77 205.58 L329.41 205.12 L329.07 204.69 L328.72 204.27 L328.36 203.85 L327.97 203.41 L327.56 202.94 L327.15 202.49 L326.74 202.04 L326.31 201.59 L325.87 201.13 L325.42 200.67 L324.94 200.18 L324.45 199.69 L323.95 199.17 L323.44 198.65 L322.91 198.11 L322.38 197.56 L321.84 197.01 L321.29 196.46 L320.75 195.91 L320.2 195.36 L319.67 194.83 L319.14 194.31 L318.61 193.78 L318.07 193.26 L317.54 192.74 L317 192.23 L316.46 191.71 L315.93 191.2 L315.39 190.69 L314.86 190.18 L314.33 189.67 L313.81 189.17 L313.29 188.67 L312.78 188.19 L312.27 187.71 L311.76 187.24 L311.25 186.78 L310.73 186.32 L310.19 185.84 L309.63 185.37 L309.08 184.89 L308.53 184.43 L307.99 183.98 L307.49 183.57 L307.02 183.17 L306.59 182.81 L306.2 182.47 L305.86 182.18 L305.56 181.93 L305.29 181.71 L305.06 181.53 L304.85 181.37 L304.64 181.23 L304.41 181.09 L304.18 180.95 L303.97 180.84 L303.77 180.74 L303.58 180.65 L303.39 180.58 L303.21 180.51 L303.05 180.46 L302.94 180.44 L302.81 180.43 L302.64 180.42 L302.43 180.42 L302.17 180.42 L301.88 180.42 L301.55 180.42 L301.28 180.41 L301.17 180.42 L301.1 180.44 L300.93 180.47 L300.63 180.5 L300.2 180.52 L299.64 180.5 L298.99 180.41 L298.36 180.25 L297.84 180.07 L297.38 179.88 L296.93 179.67 L296.51 179.44 L296.1 179.2 L295.71 178.95 L295.31 178.69 L294.86 178.38 L294.34 178 L293.81 177.58 L293.28 177.16 L292.77 176.74 L292.27 176.34 L291.8 175.98 L291.4 175.68 L291.06 175.46 L290.73 175.26 L290.38 175.06 L290.05 174.88 L289.73 174.72 L289.42 174.57 L289.1 174.43 L288.8 174.3 L288.49 174.18 L288.22 174.09 L288 174.02 L287.81 173.96 L287.63 173.92 L287.44 173.89 L287.21 173.85 L286.94 173.81 L286.61 173.76 L286.26 173.72 L285.88 173.68 L285.47 173.65 L285.04 173.62 L284.59 173.6 L284.14 173.61 L283.68 173.65 L283.24 173.69 L282.84 173.75 L282.41 173.82 L281.94 173.9 L281.42 173.99 L280.85 174.08 L280.22 174.17 L279.55 174.25 L278.86 174.32 L278.22 174.39 L277.58 174.45 L276.92 174.51 L276.24 174.56 L275.53 174.61 L274.8 174.65 L274.05 174.67 L273.21 174.67 L272.26 174.61 L271.35 174.52 L270.56 174.44 L269.89 174.35 L269.38 174.3 L269.05 174.31 L268.97 174.35 L269.2 174.41 L269.61 174.41 L269.98 174.38 L270.19 174.35 L270.19 174.41 L269.95 174.58 L269.47 174.89 L268.73 175.29 L267.96 175.64 L267.51 175.85 L267.18 176.02 L266.72 176.24 L266.13 176.5 L265.39 176.78 L264.52 177.05 L263.5 177.28 L262.44 177.43 L261.47 177.51 L260.57 177.53 L259.69 177.52 L258.83 177.43 L257.97 177.31 L257.13 177.16 L256.29 176.97 L255.37 176.72 L254.35 176.38 L253.4 175.99 L252.6 175.61 L251.94 175.29 L251.41 175.02 L251.01 174.83 L250.74 174.71 L250.47 174.62 L250.04 174.46 L249.55 174.28 L249.11 174.13 L248.74 174.01 L248.44 173.93 L248.23 173.88 L248.11 173.87 L248.1 173.88 L248.13 173.9 L248.09 173.92 L247.95 173.94 L247.7 173.97 L247.37 174.02 L246.94 174.09 L246.42 174.17 L245.92 174.24 L245.57 174.29 L245.26 174.35 L244.88 174.43 L244.46 174.52 L244.01 174.62 L243.51 174.73 L242.96 174.83 L242.38 174.93 L241.87 174.99 L241.41 175.03 L240.97 175.06 L240.57 175.08 L240.24 175.09 L240 175.09 L239.84 175.09 L239.66 175.1 L239.35 175.1 L239 175.11 L238.67 175.11 L238.34 175.11 L238.05 175.1 L237.8 175.1 L237.6 175.1 L237.46 175.1Z" fill="#ffff00"/>
<path d="M257.5 172 C258.75 171.25 263.58 172 266 172.5 C268.42 173 270.33 173.58 272 175 C273.67 176.42 274.67 178.83 276 181 C277.33 183.17 278.67 185.5 280 188 C281.33 190.5 283.08 193.5 284 196 C284.92 198.5 285.83 201.42 285.5 203 C285.17 204.58 283.33 205.67 282 205.5 C280.67 205.33 278.83 203.58 277.5 202 C276.17 200.42 275.42 198.17 274 196 C272.58 193.83 270.83 191.33 269 189 C267.17 186.67 264.75 184 263 182 C261.25 180 259.42 178.67 258.5 177 C257.58 175.33 256.25 172.75 257.5 172Z" fill="#ffff00"/>
<path d="M258.5 171 C259.08 170.25 262.75 170.42 265 170.5 C267.25 170.58 270.9 170.58 272 171.5 C273.1 172.42 271.83 174.42 271.6 176 C271.37 177.58 271.1 179.73 270.6 181 C270.1 182.27 269.33 183.27 268.6 183.6 C267.87 183.93 266.87 183.85 266.2 183 C265.53 182.15 265.38 179.83 264.6 178.5 C263.82 177.17 262.52 176.25 261.5 175 C260.48 173.75 257.92 171.75 258.5 171Z" fill="#ffaa00"/>
<path d="M273 187 C273.55 186.23 275.53 185.9 276.5 186.4 C277.47 186.9 278.48 188.73 278.8 190 C279.12 191.27 278.95 193.23 278.4 194 C277.85 194.77 276.37 195.1 275.5 194.6 C274.63 194.1 273.62 192.27 273.2 191 C272.78 189.73 272.45 187.77 273 187Z" fill="#ffaa00"/>
<path d="M237.51 165.4 L237.67 165.4 L237.88 165.4 L238.12 165.4 L238.4 165.41 L238.68 165.41 L238.96 165.41 L239.23 165.4 L239.47 165.4 L239.7 165.4 L239.9 165.39 L240.08 165.39 L240.24 165.39 L240.41 165.38 L240.59 165.37 L240.82 165.35 L241.1 165.31 L241.43 165.26 L241.82 165.2 L242.25 165.12 L242.73 165.03 L243.24 164.94 L243.76 164.85 L244.3 164.77 L244.83 164.71 L245.33 164.65 L245.84 164.59 L246.38 164.53 L246.94 164.48 L247.53 164.44 L248.14 164.43 L248.77 164.45 L249.41 164.51 L250.04 164.63 L250.66 164.77 L251.26 164.95 L251.85 165.15 L252.42 165.36 L252.98 165.57 L253.53 165.79 L254.08 166.02 L254.66 166.27 L255.24 166.56 L255.79 166.85 L256.31 167.13 L256.8 167.39 L257.28 167.62 L257.72 167.82 L258.16 167.97 L258.62 168.1 L259.11 168.22 L259.61 168.32 L260.1 168.4 L260.59 168.46 L261.06 168.5 L261.51 168.51 L261.91 168.5 L262.27 168.47 L262.61 168.4 L262.96 168.31 L263.33 168.2 L263.71 168.06 L264.12 167.9 L264.56 167.74 L264.98 167.59 L265.32 167.46 L265.64 167.31 L266.01 167.11 L266.43 166.89 L266.92 166.66 L267.48 166.45 L268.12 166.28 L268.83 166.2 L269.57 166.22 L270.29 166.3 L270.99 166.43 L271.69 166.59 L272.36 166.75 L273.01 166.9 L273.62 167.02 L274.19 167.11 L274.78 167.18 L275.39 167.23 L276 167.27 L276.62 167.31 L277.23 167.34 L277.84 167.36 L278.45 167.38 L279.04 167.4 L279.6 167.41 L280.16 167.41 L280.72 167.4 L281.28 167.39 L281.85 167.38 L282.42 167.37 L283 167.38 L283.58 167.4 L284.15 167.44 L284.7 167.49 L285.25 167.54 L285.79 167.61 L286.32 167.68 L286.84 167.75 L287.33 167.84 L287.8 167.93 L288.23 168.02 L288.64 168.12 L289.02 168.22 L289.4 168.33 L289.78 168.46 L290.16 168.6 L290.54 168.76 L290.93 168.94 L291.34 169.13 L291.75 169.34 L292.17 169.57 L292.6 169.81 L293.04 170.07 L293.48 170.36 L293.93 170.66 L294.4 171 L294.89 171.39 L295.4 171.82 L295.91 172.27 L296.41 172.72 L296.9 173.16 L297.36 173.57 L297.77 173.93 L298.13 174.22 L298.45 174.47 L298.75 174.69 L299.01 174.87 L299.24 175.02 L299.45 175.14 L299.63 175.23 L299.81 175.31 L299.97 175.38 L300.08 175.41 L300.16 175.42 L300.27 175.42 L300.43 175.42 L300.64 175.41 L300.92 175.39 L301.25 175.39 L301.59 175.4 L301.89 175.43 L302.18 175.44 L302.5 175.46 L302.85 175.49 L303.22 175.52 L303.61 175.58 L304.01 175.65 L304.42 175.76 L304.8 175.88 L305.16 176.02 L305.53 176.16 L305.89 176.33 L306.25 176.51 L306.6 176.71 L306.96 176.92 L307.33 177.15 L307.69 177.4 L308.04 177.65 L308.37 177.92 L308.71 178.2 L309.04 178.48 L309.39 178.79 L309.76 179.11 L310.17 179.46 L310.63 179.84 L311.13 180.27 L311.67 180.72 L312.23 181.2 L312.8 181.69 L313.38 182.19 L313.95 182.69 L314.51 183.19 L315.05 183.68 L315.58 184.18 L316.11 184.68 L316.64 185.19 L317.16 185.69 L317.69 186.2 L318.21 186.71 L318.74 187.22 L319.27 187.74 L319.81 188.25 L320.35 188.77 L320.89 189.3 L321.43 189.83 L321.98 190.36 L322.52 190.9 L323.06 191.44 L323.61 191.99 L324.16 192.54 L324.71 193.11 L325.26 193.67 L325.81 194.23 L326.34 194.79 L326.87 195.33 L327.38 195.86 L327.87 196.37 L328.35 196.86 L328.83 197.35 L329.3 197.83 L329.76 198.32 L330.22 198.81 L330.68 199.31 L331.13 199.81 L331.55 200.29 L331.95 200.76 L332.35 201.22 L332.74 201.7 L333.14 202.19 L333.55 202.72 L333.97 203.3 L334.43 203.94 L334.92 204.66 L335.45 205.46 L335.99 206.31 L336.54 207.18 L337.08 208.05 L337.61 208.89 L338.11 209.68 L338.56 210.38 L338.96 211 L339.34 211.55 L339.71 212.07 L340.06 212.58 L340.42 213.09 L340.78 213.64 L341.14 214.22 L341.51 214.87 L341.89 215.57 L342.26 216.3 L342.63 217.05 L342.99 217.81 L343.35 218.59 L343.7 219.37 L344.04 220.14 L344.37 220.9 L344.7 221.65 L345.02 222.41 L345.34 223.17 L345.65 223.93 L345.96 224.7 L346.25 225.47 L346.54 226.23 L346.82 227.01 L347.08 227.78 L347.33 228.55 L347.56 229.32 L347.79 230.08 L348.01 230.84 L348.22 231.59 L348.43 232.34 L348.64 233.09 L348.85 233.84 L349.06 234.59 L349.27 235.33 L349.47 236.08 L349.67 236.83 L349.87 237.59 L350.07 238.36 L350.26 239.15 L350.45 239.94 L350.63 240.75 L350.81 241.55 L350.99 242.37 L351.17 243.2 L351.34 244.03 L351.51 244.87 L351.67 245.71 L351.83 246.55 L351.99 247.38 L352.15 248.22 L352.3 249.06 L352.45 249.94 L352.6 250.84 L352.75 251.79 L352.89 252.8 L353.03 253.89 L353.17 255.06 L353.31 256.29 L353.44 257.54 L353.57 258.79 L353.69 259.99 L353.8 261.13 L353.89 262.17 L353.97 263.1 L354.04 263.95 L354.1 264.74 L354.15 265.48 L354.19 266.21 L354.23 266.93 L354.26 267.66 L354.3 268.43 L354.33 269.25 L354.37 270.11 L354.4 270.98 L354.42 271.84 L354.45 272.69 L354.47 273.51 L354.49 274.27 L354.5 274.97 L354.51 275.63 L354.51 276.26 L354.51 276.86 L354.51 277.41 L354.51 277.92 L354.5 278.35 L354.5 278.72 L354.5 279.01 L350.3 278.99 L350.3 278.69 L350.3 278.31 L350.31 277.88 L350.31 277.39 L350.31 276.86 L350.31 276.28 L350.31 275.68 L350.3 275.05 L350.29 274.36 L350.27 273.61 L350.25 272.8 L350.23 271.97 L350.2 271.11 L350.17 270.26 L350.14 269.43 L350.1 268.62 L350.07 267.86 L350.03 267.14 L350 266.44 L349.95 265.74 L349.91 265.02 L349.85 264.27 L349.79 263.45 L349.71 262.54 L349.62 261.52 L349.51 260.4 L349.39 259.21 L349.26 257.98 L349.13 256.75 L349 255.55 L348.86 254.41 L348.72 253.36 L348.59 252.4 L348.45 251.5 L348.31 250.63 L348.17 249.79 L348.02 248.98 L347.87 248.16 L347.71 247.34 L347.55 246.51 L347.39 245.68 L347.22 244.87 L347.06 244.06 L346.89 243.26 L346.71 242.46 L346.54 241.68 L346.36 240.9 L346.17 240.13 L345.99 239.38 L345.8 238.63 L345.61 237.9 L345.42 237.17 L345.22 236.44 L345.02 235.71 L344.81 234.98 L344.6 234.23 L344.39 233.48 L344.18 232.73 L343.97 231.99 L343.76 231.26 L343.54 230.53 L343.34 229.81 L343.13 229.09 L342.91 228.37 L342.67 227.65 L342.42 226.92 L342.16 226.19 L341.89 225.45 L341.61 224.71 L341.33 223.97 L341.03 223.23 L340.74 222.49 L340.43 221.74 L340.11 220.97 L339.8 220.21 L339.47 219.46 L339.15 218.72 L338.82 218.01 L338.5 217.34 L338.19 216.72 L337.89 216.16 L337.6 215.66 L337.31 215.18 L337 214.71 L336.66 214.2 L336.3 213.66 L335.91 213.05 L335.49 212.38 L335.03 211.63 L334.55 210.81 L334.03 209.96 L333.49 209.09 L332.95 208.24 L332.42 207.43 L331.92 206.67 L331.47 206.01 L331.05 205.43 L330.66 204.9 L330.29 204.43 L329.93 203.98 L329.57 203.55 L329.21 203.12 L328.82 202.67 L328.41 202.2 L327.99 201.73 L327.57 201.28 L327.13 200.82 L326.69 200.35 L326.23 199.88 L325.75 199.4 L325.26 198.9 L324.77 198.38 L324.25 197.86 L323.73 197.32 L323.2 196.77 L322.65 196.21 L322.11 195.66 L321.56 195.1 L321.02 194.56 L320.48 194.02 L319.95 193.49 L319.41 192.96 L318.88 192.44 L318.34 191.92 L317.8 191.4 L317.27 190.88 L316.73 190.37 L316.2 189.85 L315.67 189.34 L315.14 188.83 L314.62 188.33 L314.1 187.83 L313.58 187.34 L313.07 186.86 L312.56 186.38 L312.04 185.91 L311.51 185.44 L310.96 184.96 L310.4 184.47 L309.84 184 L309.29 183.53 L308.76 183.08 L308.25 182.66 L307.79 182.27 L307.36 181.91 L306.98 181.58 L306.63 181.28 L306.32 181.02 L306.05 180.79 L305.79 180.58 L305.54 180.4 L305.29 180.23 L305.03 180.07 L304.77 179.92 L304.53 179.78 L304.29 179.66 L304.05 179.56 L303.82 179.46 L303.6 179.38 L303.39 179.31 L303.2 179.26 L303.01 179.24 L302.78 179.23 L302.53 179.23 L302.25 179.23 L301.95 179.23 L301.63 179.23 L301.35 179.23 L301.19 179.23 L301.06 179.25 L300.86 179.28 L300.58 179.31 L300.21 179.33 L299.76 179.32 L299.24 179.25 L298.73 179.13 L298.29 178.98 L297.89 178.82 L297.51 178.64 L297.13 178.44 L296.76 178.23 L296.39 178 L296.01 177.75 L295.58 177.46 L295.1 177.11 L294.58 176.71 L294.07 176.29 L293.55 175.88 L293.04 175.47 L292.56 175.1 L292.13 174.79 L291.75 174.53 L291.38 174.31 L291.02 174.1 L290.66 173.91 L290.31 173.73 L289.97 173.57 L289.63 173.42 L289.3 173.28 L288.97 173.15 L288.67 173.04 L288.42 172.96 L288.19 172.9 L287.97 172.84 L287.74 172.8 L287.49 172.75 L287.18 172.71 L286.84 172.66 L286.46 172.61 L286.06 172.56 L285.63 172.53 L285.18 172.49 L284.72 172.47 L284.24 172.45 L283.77 172.44 L283.31 172.43 L282.87 172.45 L282.42 172.47 L281.92 172.5 L281.39 172.54 L280.82 172.59 L280.21 172.63 L279.56 172.66 L278.9 172.68 L278.27 172.69 L277.65 172.71 L277 172.71 L276.33 172.72 L275.65 172.71 L274.95 172.69 L274.24 172.66 L273.48 172.6 L272.64 172.49 L271.82 172.35 L271.08 172.2 L270.42 172.07 L269.86 171.96 L269.42 171.9 L269.15 171.89 L269.09 171.9 L269.16 171.91 L269.21 171.92 L269.17 171.95 L269.01 172.05 L268.71 172.23 L268.26 172.48 L267.64 172.79 L267 173.06 L266.56 173.23 L266.18 173.39 L265.74 173.57 L265.21 173.78 L264.59 173.99 L263.88 174.18 L263.09 174.34 L262.26 174.44 L261.48 174.48 L260.74 174.47 L260 174.43 L259.26 174.35 L258.53 174.24 L257.8 174.1 L257.08 173.94 L256.32 173.73 L255.5 173.45 L254.73 173.12 L254.04 172.79 L253.44 172.49 L252.91 172.21 L252.46 171.98 L252.09 171.81 L251.72 171.65 L251.24 171.47 L250.73 171.28 L250.25 171.1 L249.81 170.95 L249.41 170.82 L249.07 170.73 L248.78 170.67 L248.55 170.64 L248.35 170.62 L248.11 170.62 L247.8 170.64 L247.44 170.67 L247.02 170.72 L246.56 170.78 L246.04 170.85 L245.54 170.91 L245.13 170.97 L244.73 171.03 L244.31 171.11 L243.86 171.2 L243.39 171.3 L242.92 171.39 L242.42 171.48 L241.93 171.56 L241.5 171.61 L241.12 171.65 L240.77 171.67 L240.46 171.68 L240.19 171.69 L239.97 171.69 L239.79 171.7 L239.59 171.7 L239.31 171.7 L238.99 171.71 L238.67 171.71 L238.36 171.71 L238.08 171.7 L237.83 171.7 L237.62 171.7 L237.48 171.7Z" fill="#ffa000"/>
<path d="M237.51 165.4 L237.67 165.4 L237.88 165.4 L238.12 165.4 L238.4 165.41 L238.68 165.41 L238.96 165.41 L239.23 165.4 L239.47 165.4 L239.7 165.4 L239.9 165.39 L240.08 165.39 L240.24 165.39 L240.41 165.38 L240.59 165.37 L240.82 165.35 L241.1 165.31 L241.43 165.26 L241.82 165.2 L242.25 165.12 L242.73 165.03 L243.24 164.94 L243.76 164.85 L244.3 164.77 L244.83 164.71 L245.33 164.65 L245.84 164.59 L246.38 164.53 L246.94 164.48 L247.53 164.44 L248.14 164.43 L248.77 164.45 L249.41 164.51 L250.04 164.63 L250.66 164.77 L251.26 164.95 L251.85 165.15 L252.42 165.36 L252.98 165.57 L253.53 165.79 L254.08 166.02 L254.66 166.27 L255.24 166.56 L255.79 166.85 L256.31 167.13 L256.8 167.39 L257.28 167.62 L257.72 167.82 L258.16 167.97 L258.62 168.1 L259.11 168.22 L259.61 168.32 L260.1 168.4 L260.59 168.46 L261.06 168.5 L261.51 168.51 L261.91 168.5 L262.27 168.47 L262.61 168.4 L262.96 168.31 L263.33 168.2 L263.71 168.06 L264.12 167.9 L264.56 167.74 L264.98 167.59 L265.32 167.46 L265.64 167.31 L266.01 167.11 L266.43 166.89 L266.92 166.66 L267.48 166.45 L268.12 166.28 L268.83 166.2 L269.57 166.22 L270.29 166.3 L270.99 166.43 L271.69 166.59 L272.36 166.75 L273.01 166.9 L273.62 167.02 L274.19 167.11 L274.78 167.18 L275.39 167.23 L276 167.27 L276.62 167.31 L277.23 167.34 L277.84 167.36 L278.45 167.38 L279.04 167.4 L279.6 167.41 L280.16 167.41 L280.72 167.4 L281.28 167.39 L281.85 167.38 L282.42 167.37 L283 167.38 L283.58 167.4 L284.15 167.44 L284.7 167.49 L285.25 167.54 L285.79 167.61 L286.32 167.68 L286.84 167.75 L287.33 167.84 L287.8 167.93 L288.23 168.02 L288.64 168.12 L289.02 168.22 L289.4 168.33 L289.78 168.46 L290.16 168.6 L290.54 168.76 L290.93 168.94 L291.34 169.13 L291.75 169.34 L292.17 169.57 L292.6 169.81 L293.04 170.07 L293.48 170.36 L293.93 170.66 L294.4 171 L294.89 171.39 L295.4 171.82 L295.91 172.27 L296.41 172.72 L296.9 173.16 L297.36 173.57 L297.77 173.93 L298.13 174.22 L298.45 174.47 L298.75 174.69 L299.01 174.87 L299.24 175.02 L299.45 175.14 L299.63 175.23 L299.81 175.31 L299.97 175.38 L300.08 175.41 L300.16 175.42 L300.27 175.42 L300.43 175.42 L300.64 175.41 L300.92 175.39 L301.25 175.39 L301.59 175.4 L301.89 175.43 L302.18 175.44 L302.5 175.46 L302.85 175.49 L303.22 175.52 L303.61 175.58 L304.01 175.65 L304.42 175.76 L304.8 175.88 L305.16 176.02 L305.53 176.16 L305.89 176.33 L306.25 176.51 L306.6 176.71 L306.96 176.92 L307.33 177.15 L307.69 177.4 L308.04 177.65 L308.37 177.92 L308.71 178.2 L309.04 178.48 L309.39 178.79 L309.76 179.11 L310.17 179.46 L310.63 179.84 L311.13 180.27 L311.67 180.72 L312.23 181.2 L312.8 181.69 L313.38 182.19 L313.95 182.69 L314.51 183.19 L315.05 183.68 L315.58 184.18 L316.11 184.68 L316.64 185.19 L317.16 185.69 L317.69 186.2 L318.21 186.71 L318.74 187.22 L319.27 187.74 L319.81 188.25 L320.35 188.77 L320.89 189.3 L321.43 189.83 L321.98 190.36 L322.52 190.9 L323.06 191.44 L323.61 191.99 L324.16 192.54 L324.71 193.11 L325.26 193.67 L325.81 194.23 L326.34 194.79 L326.87 195.33 L327.38 195.86 L327.87 196.37 L328.35 196.86 L328.83 197.35 L329.3 197.83 L329.76 198.32 L330.22 198.81 L330.68 199.31 L331.13 199.81 L331.55 200.29 L331.95 200.76 L332.35 201.22 L332.74 201.7 L333.14 202.19 L333.55 202.72 L333.97 203.3 L334.43 203.94 L334.92 204.66 L335.45 205.46 L335.99 206.31 L336.54 207.18 L337.08 208.05 L337.61 208.89 L338.11 209.68 L338.56 210.38 L338.96 211 L339.34 211.55 L339.71 212.07 L340.06 212.58 L340.42 213.09 L340.78 213.64 L341.14 214.22 L341.51 214.87 L341.89 215.57 L342.26 216.3 L342.63 217.05 L342.99 217.81 L343.35 218.59 L343.7 219.37 L344.04 220.14 L344.37 220.9 L344.7 221.65 L345.02 222.41 L345.34 223.17 L345.65 223.93 L345.96 224.7 L346.25 225.47 L346.54 226.23 L346.82 227.01 L347.08 227.78 L347.33 228.55 L347.56 229.32 L347.79 230.08 L348.01 230.84 L348.22 231.59 L348.43 232.34 L348.64 233.09 L348.85 233.84 L349.06 234.59 L349.27 235.33 L349.47 236.08 L349.67 236.83 L349.87 237.59 L350.07 238.36 L350.26 239.15 L350.45 239.94 L350.63 240.75 L350.81 241.55 L350.99 242.37 L351.17 243.2 L351.34 244.03 L351.51 244.87 L351.67 245.71 L351.83 246.55 L351.99 247.38 L352.15 248.22 L352.3 249.06 L352.45 249.94 L352.6 250.84 L352.75 251.79 L352.89 252.8 L353.03 253.89 L353.17 255.06 L353.31 256.29 L353.44 257.54 L353.57 258.79 L353.69 259.99 L353.8 261.13 L353.89 262.17 L353.97 263.1 L354.04 263.95 L354.1 264.74 L354.15 265.48 L354.19 266.21 L354.23 266.93 L354.26 267.66 L354.3 268.43 L354.33 269.25 L354.37 270.11 L354.4 270.98 L354.42 271.84 L354.45 272.69 L354.47 273.51 L354.49 274.27 L354.5 274.97 L354.51 275.63 L354.51 276.26 L354.51 276.86 L354.51 277.41 L354.51 277.92 L354.5 278.35 L354.5 278.72 L354.5 279.01 L350.8 278.99 L350.8 278.69 L350.8 278.32 L350.81 277.88 L350.81 277.39 L350.81 276.86 L350.81 276.28 L350.81 275.67 L350.8 275.04 L350.79 274.35 L350.77 273.6 L350.75 272.79 L350.73 271.95 L350.7 271.1 L350.67 270.24 L350.64 269.41 L350.6 268.6 L350.57 267.84 L350.53 267.11 L350.49 266.41 L350.45 265.71 L350.41 264.99 L350.35 264.23 L350.29 263.4 L350.21 262.5 L350.11 261.48 L350.01 260.35 L349.89 259.16 L349.76 257.93 L349.63 256.7 L349.49 255.49 L349.36 254.35 L349.22 253.29 L349.08 252.33 L348.95 251.42 L348.8 250.55 L348.66 249.71 L348.51 248.89 L348.36 248.07 L348.2 247.25 L348.04 246.42 L347.88 245.59 L347.71 244.77 L347.55 243.96 L347.37 243.15 L347.2 242.35 L347.02 241.57 L346.84 240.79 L346.66 240.01 L346.48 239.26 L346.29 238.51 L346.1 237.77 L345.9 237.04 L345.7 236.31 L345.5 235.58 L345.29 234.84 L345.08 234.1 L344.87 233.35 L344.66 232.6 L344.45 231.85 L344.24 231.12 L344.02 230.39 L343.81 229.66 L343.59 228.93 L343.36 228.21 L343.12 227.49 L342.86 226.75 L342.59 226.02 L342.31 225.28 L342.02 224.54 L341.73 223.8 L341.43 223.06 L341.12 222.32 L340.81 221.57 L340.49 220.81 L340.16 220.05 L339.83 219.29 L339.5 218.56 L339.16 217.84 L338.83 217.17 L338.51 216.54 L338.2 215.97 L337.9 215.47 L337.6 214.99 L337.28 214.51 L336.94 214.01 L336.58 213.47 L336.18 212.87 L335.76 212.2 L335.3 211.46 L334.8 210.65 L334.28 209.8 L333.74 208.93 L333.2 208.08 L332.67 207.26 L332.17 206.51 L331.71 205.84 L331.29 205.25 L330.9 204.72 L330.53 204.24 L330.17 203.79 L329.8 203.36 L329.43 202.92 L329.04 202.47 L328.63 202 L328.21 201.53 L327.79 201.07 L327.35 200.61 L326.9 200.14 L326.44 199.67 L325.97 199.19 L325.48 198.69 L324.98 198.17 L324.47 197.65 L323.95 197.11 L323.41 196.56 L322.87 196 L322.32 195.45 L321.78 194.89 L321.23 194.34 L320.69 193.81 L320.16 193.28 L319.62 192.75 L319.09 192.23 L318.55 191.7 L318.01 191.18 L317.48 190.67 L316.94 190.15 L316.41 189.64 L315.88 189.13 L315.35 188.62 L314.83 188.11 L314.31 187.62 L313.79 187.12 L313.27 186.64 L312.76 186.16 L312.24 185.69 L311.71 185.21 L311.16 184.73 L310.6 184.25 L310.04 183.77 L309.48 183.3 L308.95 182.85 L308.45 182.43 L307.98 182.04 L307.56 181.68 L307.17 181.35 L306.83 181.05 L306.52 180.79 L306.23 180.55 L305.97 180.34 L305.72 180.16 L305.46 179.98 L305.19 179.81 L304.92 179.66 L304.67 179.52 L304.42 179.39 L304.17 179.28 L303.93 179.18 L303.69 179.1 L303.47 179.02 L303.27 178.97 L303.06 178.94 L302.82 178.92 L302.55 178.9 L302.27 178.89 L301.97 178.89 L301.66 178.88 L301.38 178.87 L301.2 178.87 L301.04 178.88 L300.84 178.9 L300.57 178.92 L300.22 178.94 L299.8 178.92 L299.33 178.86 L298.86 178.73 L298.45 178.59 L298.08 178.43 L297.72 178.26 L297.36 178.06 L297.01 177.85 L296.66 177.62 L296.29 177.36 L295.89 177.07 L295.42 176.72 L294.93 176.32 L294.43 175.9 L293.92 175.47 L293.43 175.05 L292.95 174.65 L292.51 174.31 L292.12 174.03 L291.75 173.79 L291.38 173.55 L291.01 173.34 L290.65 173.14 L290.3 172.96 L289.96 172.79 L289.62 172.64 L289.28 172.49 L288.97 172.36 L288.7 172.26 L288.45 172.18 L288.2 172.11 L287.95 172.05 L287.68 171.99 L287.36 171.93 L287 171.86 L286.61 171.79 L286.19 171.73 L285.75 171.68 L285.29 171.63 L284.81 171.58 L284.33 171.55 L283.84 171.52 L283.36 171.5 L282.9 171.49 L282.42 171.5 L281.91 171.52 L281.37 171.54 L280.8 171.57 L280.2 171.59 L279.57 171.6 L278.93 171.61 L278.31 171.6 L277.69 171.59 L277.05 171.58 L276.39 171.57 L275.73 171.54 L275.05 171.51 L274.36 171.46 L273.64 171.38 L272.86 171.27 L272.09 171.12 L271.37 170.95 L270.71 170.8 L270.12 170.67 L269.62 170.58 L269.25 170.54 L269.03 170.54 L268.91 170.56 L268.79 170.59 L268.62 170.66 L268.38 170.78 L268.04 170.96 L267.61 171.2 L267.06 171.46 L266.5 171.69 L266.05 171.85 L265.66 172 L265.22 172.17 L264.73 172.35 L264.17 172.52 L263.55 172.69 L262.88 172.81 L262.17 172.88 L261.49 172.9 L260.82 172.89 L260.15 172.84 L259.49 172.76 L258.82 172.66 L258.16 172.53 L257.5 172.37 L256.82 172.18 L256.1 171.93 L255.42 171.63 L254.79 171.33 L254.22 171.03 L253.7 170.75 L253.22 170.5 L252.79 170.29 L252.36 170.11 L251.87 169.91 L251.35 169.71 L250.85 169.52 L250.37 169.35 L249.93 169.2 L249.51 169.08 L249.13 168.99 L248.79 168.93 L248.47 168.9 L248.12 168.89 L247.73 168.91 L247.3 168.94 L246.84 168.98 L246.35 169.04 L245.84 169.1 L245.34 169.16 L244.89 169.22 L244.46 169.28 L244 169.36 L243.54 169.45 L243.07 169.54 L242.6 169.63 L242.14 169.71 L241.7 169.77 L241.31 169.82 L240.97 169.85 L240.67 169.87 L240.4 169.89 L240.16 169.89 L239.95 169.89 L239.77 169.9 L239.56 169.9 L239.29 169.9 L238.98 169.91 L238.67 169.91 L238.37 169.91 L238.09 169.9 L237.84 169.9 L237.64 169.9 L237.49 169.9Z" fill="#ff5a00"/>
<path d="M237.51 165.4 L237.67 165.4 L237.88 165.4 L238.12 165.4 L238.4 165.41 L238.68 165.41 L238.96 165.41 L239.23 165.4 L239.47 165.4 L239.7 165.4 L239.9 165.39 L240.08 165.39 L240.24 165.39 L240.41 165.38 L240.59 165.37 L240.82 165.35 L241.1 165.31 L241.43 165.26 L241.82 165.2 L242.25 165.12 L242.73 165.03 L243.24 164.94 L243.76 164.85 L244.3 164.77 L244.83 164.71 L245.33 164.65 L245.84 164.59 L246.38 164.53 L246.94 164.48 L247.53 164.44 L248.14 164.43 L248.77 164.45 L249.41 164.51 L250.04 164.63 L250.66 164.77 L251.26 164.95 L251.85 165.15 L252.42 165.36 L252.98 165.57 L253.53 165.79 L254.08 166.02 L254.66 166.27 L255.24 166.56 L255.79 166.85 L256.31 167.13 L256.8 167.39 L257.28 167.62 L257.72 167.82 L258.16 167.97 L258.62 168.1 L259.11 168.22 L259.61 168.32 L260.1 168.4 L260.59 168.46 L261.06 168.5 L261.51 168.51 L261.91 168.5 L262.27 168.47 L262.61 168.4 L262.96 168.31 L263.33 168.2 L263.71 168.06 L264.12 167.9 L264.56 167.74 L264.98 167.59 L265.32 167.46 L265.64 167.31 L266.01 167.11 L266.43 166.89 L266.92 166.66 L267.48 166.45 L268.12 166.28 L268.83 166.2 L269.57 166.22 L270.29 166.3 L270.99 166.43 L271.69 166.59 L272.36 166.75 L273.01 166.9 L273.62 167.02 L274.19 167.11 L274.78 167.18 L275.39 167.23 L276 167.27 L276.62 167.31 L277.23 167.34 L277.84 167.36 L278.45 167.38 L279.04 167.4 L279.6 167.41 L280.16 167.41 L280.72 167.4 L281.28 167.39 L281.85 167.38 L282.42 167.37 L283 167.38 L283.58 167.4 L284.15 167.44 L284.7 167.49 L285.25 167.54 L285.79 167.61 L286.32 167.68 L286.84 167.75 L287.33 167.84 L287.8 167.93 L288.23 168.02 L288.64 168.12 L289.02 168.22 L289.4 168.33 L289.78 168.46 L290.16 168.6 L290.54 168.76 L290.93 168.94 L291.34 169.13 L291.75 169.34 L292.17 169.57 L292.6 169.81 L293.04 170.07 L293.48 170.36 L293.93 170.66 L294.4 171 L294.89 171.39 L295.4 171.82 L295.91 172.27 L296.41 172.72 L296.9 173.16 L297.36 173.57 L297.77 173.93 L298.13 174.22 L298.45 174.47 L298.75 174.69 L299.01 174.87 L299.24 175.02 L299.45 175.14 L299.63 175.23 L299.81 175.31 L299.97 175.38 L300.08 175.41 L300.16 175.42 L300.27 175.42 L300.43 175.42 L300.64 175.41 L300.92 175.39 L301.25 175.39 L301.59 175.4 L301.89 175.43 L302.18 175.44 L302.5 175.46 L302.85 175.49 L303.22 175.52 L303.61 175.58 L304.01 175.65 L304.42 175.76 L304.8 175.88 L305.16 176.02 L305.53 176.16 L305.89 176.33 L306.25 176.51 L306.6 176.71 L306.96 176.92 L307.33 177.15 L307.69 177.4 L308.04 177.65 L308.37 177.92 L308.71 178.2 L309.04 178.48 L309.39 178.79 L309.76 179.11 L310.17 179.46 L310.63 179.84 L311.13 180.27 L311.67 180.72 L312.23 181.2 L312.8 181.69 L313.38 182.19 L313.95 182.69 L314.51 183.19 L315.05 183.68 L315.58 184.18 L316.11 184.68 L316.64 185.19 L317.16 185.69 L317.69 186.2 L318.21 186.71 L318.74 187.22 L319.27 187.74 L319.81 188.25 L320.35 188.77 L320.89 189.3 L321.43 189.83 L321.98 190.36 L322.52 190.9 L323.06 191.44 L323.61 191.99 L324.16 192.54 L324.71 193.11 L325.26 193.67 L325.81 194.23 L326.34 194.79 L326.87 195.33 L327.38 195.86 L327.87 196.37 L328.35 196.86 L328.83 197.35 L329.3 197.83 L329.76 198.32 L330.22 198.81 L330.68 199.31 L331.13 199.81 L331.55 200.29 L331.95 200.76 L332.35 201.22 L332.74 201.7 L333.14 202.19 L333.55 202.72 L333.97 203.3 L334.43 203.94 L334.92 204.66 L335.45 205.46 L335.99 206.31 L336.54 207.18 L337.08 208.05 L337.61 208.89 L338.11 209.68 L338.56 210.38 L338.96 211 L339.34 211.55 L339.71 212.07 L340.06 212.58 L340.42 213.09 L340.78 213.64 L341.14 214.22 L341.51 214.87 L341.89 215.57 L342.26 216.3 L342.63 217.05 L342.99 217.81 L343.35 218.59 L343.7 219.37 L344.04 220.14 L344.37 220.9 L344.7 221.65 L345.02 222.41 L345.34 223.17 L345.65 223.93 L345.96 224.7 L346.25 225.47 L346.54 226.23 L346.82 227.01 L347.08 227.78 L347.33 228.55 L347.56 229.32 L347.79 230.08 L348.01 230.84 L348.22 231.59 L348.43 232.34 L348.64 233.09 L348.85 233.84 L349.06 234.59 L349.27 235.33 L349.47 236.08 L349.67 236.83 L349.87 237.59 L350.07 238.36 L350.26 239.15 L350.45 239.94 L350.63 240.75 L350.81 241.55 L350.99 242.37 L351.17 243.2 L351.34 244.03 L351.51 244.87 L351.67 245.71 L351.83 246.55 L351.99 247.38 L352.15 248.22 L352.3 249.06 L352.45 249.94 L352.6 250.84 L352.75 251.79 L352.89 252.8 L353.03 253.89 L353.17 255.06 L353.31 256.29 L353.44 257.54 L353.57 258.79 L353.69 259.99 L353.8 261.13 L353.89 262.17 L353.97 263.1 L354.04 263.95 L354.1 264.74 L354.15 265.48 L354.19 266.21 L354.23 266.93 L354.26 267.66 L354.3 268.43 L354.33 269.25 L354.37 270.11 L354.4 270.98 L354.42 271.84 L354.45 272.69 L354.47 273.51 L354.49 274.27 L354.5 274.97 L354.51 275.63 L354.51 276.26 L354.51 276.86 L354.51 277.41 L354.51 277.92 L354.5 278.35 L354.5 278.72 L354.5 279.01 L351.3 278.99 L351.3 278.7 L351.3 278.32 L351.31 277.89 L351.31 277.4 L351.31 276.86 L351.31 276.28 L351.31 275.67 L351.3 275.03 L351.29 274.34 L351.27 273.58 L351.25 272.78 L351.23 271.94 L351.2 271.08 L351.17 270.22 L351.14 269.39 L351.1 268.58 L351.07 267.81 L351.03 267.09 L350.99 266.38 L350.95 265.68 L350.91 264.95 L350.85 264.19 L350.79 263.36 L350.71 262.45 L350.61 261.43 L350.5 260.3 L350.39 259.11 L350.26 257.88 L350.13 256.64 L349.99 255.43 L349.85 254.28 L349.72 253.23 L349.58 252.26 L349.44 251.34 L349.3 250.47 L349.15 249.62 L349 248.8 L348.85 247.98 L348.69 247.16 L348.53 246.32 L348.37 245.49 L348.2 244.67 L348.03 243.85 L347.86 243.05 L347.69 242.25 L347.51 241.46 L347.33 240.67 L347.15 239.9 L346.96 239.14 L346.77 238.39 L346.58 237.65 L346.38 236.91 L346.18 236.18 L345.98 235.44 L345.77 234.71 L345.56 233.96 L345.35 233.21 L345.14 232.46 L344.93 231.72 L344.72 230.98 L344.5 230.24 L344.28 229.51 L344.06 228.78 L343.82 228.05 L343.57 227.32 L343.31 226.58 L343.04 225.84 L342.75 225.1 L342.46 224.36 L342.16 223.62 L341.86 222.88 L341.55 222.13 L341.23 221.38 L340.9 220.62 L340.57 219.86 L340.23 219.1 L339.9 218.36 L339.56 217.65 L339.22 216.97 L338.89 216.33 L338.57 215.75 L338.26 215.24 L337.95 214.75 L337.63 214.27 L337.29 213.77 L336.92 213.23 L336.53 212.64 L336.1 211.98 L335.64 211.24 L335.15 210.43 L334.62 209.58 L334.08 208.72 L333.54 207.87 L333.01 207.04 L332.51 206.28 L332.04 205.61 L331.62 205.02 L331.22 204.48 L330.84 203.99 L330.48 203.54 L330.11 203.1 L329.74 202.66 L329.34 202.21 L328.93 201.74 L328.51 201.27 L328.08 200.8 L327.64 200.33 L327.19 199.87 L326.73 199.39 L326.25 198.91 L325.77 198.41 L325.27 197.9 L324.76 197.37 L324.23 196.83 L323.7 196.28 L323.15 195.73 L322.61 195.17 L322.06 194.61 L321.51 194.06 L320.97 193.53 L320.44 192.99 L319.9 192.47 L319.37 191.94 L318.83 191.42 L318.29 190.9 L317.75 190.38 L317.22 189.87 L316.68 189.35 L316.15 188.84 L315.62 188.33 L315.1 187.83 L314.58 187.33 L314.06 186.84 L313.55 186.35 L313.03 185.87 L312.51 185.39 L311.98 184.92 L311.42 184.43 L310.86 183.95 L310.29 183.47 L309.74 183 L309.21 182.55 L308.7 182.13 L308.24 181.74 L307.81 181.38 L307.43 181.05 L307.09 180.75 L306.77 180.49 L306.48 180.25 L306.21 180.03 L305.95 179.84 L305.68 179.65 L305.4 179.47 L305.12 179.31 L304.85 179.17 L304.59 179.04 L304.33 178.93 L304.07 178.83 L303.81 178.75 L303.57 178.68 L303.34 178.63 L303.11 178.59 L302.86 178.57 L302.59 178.55 L302.3 178.54 L302 178.53 L301.68 178.51 L301.4 178.5 L301.2 178.5 L301.03 178.51 L300.82 178.52 L300.55 178.55 L300.23 178.56 L299.84 178.54 L299.41 178.48 L298.98 178.37 L298.6 178.23 L298.25 178.08 L297.91 177.91 L297.57 177.73 L297.24 177.52 L296.89 177.29 L296.53 177.04 L296.14 176.75 L295.69 176.41 L295.2 176.01 L294.71 175.58 L294.21 175.15 L293.71 174.72 L293.24 174.32 L292.79 173.97 L292.39 173.67 L292.01 173.42 L291.63 173.17 L291.25 172.95 L290.89 172.74 L290.53 172.55 L290.18 172.36 L289.84 172.19 L289.5 172.02 L289.18 171.88 L288.9 171.76 L288.63 171.66 L288.37 171.57 L288.11 171.49 L287.82 171.42 L287.49 171.34 L287.12 171.26 L286.72 171.18 L286.29 171.11 L285.84 171.04 L285.37 170.98 L284.88 170.92 L284.39 170.87 L283.89 170.83 L283.4 170.8 L282.92 170.78 L282.42 170.77 L281.9 170.78 L281.35 170.79 L280.78 170.8 L280.19 170.81 L279.57 170.81 L278.95 170.8 L278.34 170.78 L277.72 170.76 L277.08 170.73 L276.44 170.7 L275.78 170.67 L275.12 170.62 L274.45 170.56 L273.75 170.48 L273.02 170.37 L272.29 170.22 L271.59 170.06 L270.92 169.9 L270.31 169.76 L269.77 169.66 L269.32 169.61 L268.99 169.6 L268.74 169.63 L268.5 169.69 L268.25 169.79 L267.95 169.93 L267.59 170.12 L267.17 170.34 L266.68 170.58 L266.16 170.78 L265.72 170.94 L265.32 171.09 L264.88 171.25 L264.41 171.42 L263.9 171.58 L263.34 171.72 L262.74 171.84 L262.11 171.9 L261.49 171.91 L260.88 171.89 L260.25 171.84 L259.63 171.77 L259 171.67 L258.37 171.54 L257.75 171.39 L257.12 171.21 L256.47 170.98 L255.85 170.71 L255.26 170.42 L254.7 170.13 L254.18 169.84 L253.69 169.58 L253.23 169.35 L252.77 169.15 L252.26 168.95 L251.73 168.74 L251.22 168.54 L250.72 168.36 L250.24 168.19 L249.78 168.06 L249.35 167.95 L248.94 167.88 L248.54 167.84 L248.12 167.83 L247.68 167.84 L247.21 167.87 L246.73 167.92 L246.23 167.97 L245.72 168.03 L245.22 168.09 L244.75 168.14 L244.29 168.21 L243.82 168.29 L243.34 168.38 L242.87 168.46 L242.41 168.55 L241.97 168.62 L241.55 168.68 L241.19 168.73 L240.88 168.76 L240.61 168.78 L240.36 168.79 L240.14 168.79 L239.94 168.79 L239.75 168.8 L239.54 168.8 L239.27 168.8 L238.98 168.81 L238.67 168.81 L238.38 168.81 L238.1 168.8 L237.85 168.8 L237.64 168.8 L237.49 168.8Z" fill="#ff1e00"/>
<path d="M238.8 155.5 L240.1 155.5 L242.2 167 L242.2 171 L238.8 171 Z" fill="#8cff00"/>
<path d="M240.1 155.5 L242.2 167 L242.2 170" fill="none" stroke="#ffd000" stroke-width="0.9"/>
</g>
<rect x="236.2" y="153.7" width="124.2" height="123.3" fill="none" stroke="#b4b4b4" stroke-width="0.7"/>
<path d="M238.4 277 v-1.8 M238.4 153.7 v1.8M242.1 277 v-1.0 M242.1 153.7 v1.0M245.8 277 v-1.0 M245.8 153.7 v1.0M249.5 277 v-1.0 M249.5 153.7 v1.0M253.2 277 v-1.0 M253.2 153.7 v1.0M256.9 277 v-1.0 M256.9 153.7 v1.0M260.6 277 v-1.0 M260.6 153.7 v1.0M264.3 277 v-1.0 M264.3 153.7 v1.0M268 277 v-1.0 M268 153.7 v1.0M271.7 277 v-1.0 M271.7 153.7 v1.0M275.4 277 v-1.8 M275.4 153.7 v1.8M279.1 277 v-1.0 M279.1 153.7 v1.0M282.8 277 v-1.0 M282.8 153.7 v1.0M286.5 277 v-1.0 M286.5 153.7 v1.0M290.2 277 v-1.0 M290.2 153.7 v1.0M293.9 277 v-1.0 M293.9 153.7 v1.0M297.6 277 v-1.0 M297.6 153.7 v1.0M301.3 277 v-1.0 M301.3 153.7 v1.0M305 277 v-1.0 M305 153.7 v1.0M308.7 277 v-1.0 M308.7 153.7 v1.0M312.4 277 v-1.8 M312.4 153.7 v1.8M316.1 277 v-1.0 M316.1 153.7 v1.0M319.8 277 v-1.0 M319.8 153.7 v1.0M323.5 277 v-1.0 M323.5 153.7 v1.0M327.2 277 v-1.0 M327.2 153.7 v1.0M330.9 277 v-1.0 M330.9 153.7 v1.0M334.6 277 v-1.0 M334.6 153.7 v1.0M338.3 277 v-1.0 M338.3 153.7 v1.0M342 277 v-1.0 M342 153.7 v1.0M345.7 277 v-1.0 M345.7 153.7 v1.0M349.4 277 v-1.8 M349.4 153.7 v1.8M353.1 277 v-1.0 M353.1 153.7 v1.0M356.8 277 v-1.0 M356.8 153.7 v1.0M236.2 274.6 h1.8 M360.4 274.6 h-1.8M236.2 271.37 h1.0 M360.4 271.37 h-1.0M236.2 268.14 h1.0 M360.4 268.14 h-1.0M236.2 264.91 h1.0 M360.4 264.91 h-1.0M236.2 261.68 h1.0 M360.4 261.68 h-1.0M236.2 258.45 h1.0 M360.4 258.45 h-1.0M236.2 255.22 h1.0 M360.4 255.22 h-1.0M236.2 251.99 h1.0 M360.4 251.99 h-1.0M236.2 248.76 h1.0 M360.4 248.76 h-1.0M236.2 245.53 h1.0 M360.4 245.53 h-1.0M236.2 242.3 h1.8 M360.4 242.3 h-1.8M236.2 239.07 h1.0 M360.4 239.07 h-1.0M236.2 235.84 h1.0 M360.4 235.84 h-1.0M236.2 232.61 h1.0 M360.4 232.61 h-1.0M236.2 229.38 h1.0 M360.4 229.38 h-1.0M236.2 226.15 h1.0 M360.4 226.15 h-1.0M236.2 222.92 h1.0 M360.4 222.92 h-1.0M236.2 219.69 h1.0 M360.4 219.69 h-1.0M236.2 216.46 h1.0 M360.4 216.46 h-1.0M236.2 213.23 h1.0 M360.4 213.23 h-1.0M236.2 210 h1.8 M360.4 210 h-1.8M236.2 206.77 h1.0 M360.4 206.77 h-1.0M236.2 203.54 h1.0 M360.4 203.54 h-1.0M236.2 200.31 h1.0 M360.4 200.31 h-1.0M236.2 197.08 h1.0 M360.4 197.08 h-1.0M236.2 193.85 h1.0 M360.4 193.85 h-1.0M236.2 190.62 h1.0 M360.4 190.62 h-1.0M236.2 187.39 h1.0 M360.4 187.39 h-1.0M236.2 184.16 h1.0 M360.4 184.16 h-1.0M236.2 180.93 h1.0 M360.4 180.93 h-1.0M236.2 177.7 h1.8 M360.4 177.7 h-1.8M236.2 174.47 h1.0 M360.4 174.47 h-1.0M236.2 171.24 h1.0 M360.4 171.24 h-1.0M236.2 168.01 h1.0 M360.4 168.01 h-1.0M236.2 164.78 h1.0 M360.4 164.78 h-1.0M236.2 161.55 h1.0 M360.4 161.55 h-1.0M236.2 158.32 h1.0 M360.4 158.32 h-1.0M236.2 155.09 h1.0 M360.4 155.09 h-1.0" fill="none" stroke="#555" stroke-width="0.6"/>
<text x="234.8" y="181.8" font-family="Liberation Sans, sans-serif" font-size="11.6" text-anchor="end" letter-spacing="-0.85" fill="#000" stroke="#000" stroke-width="0.18">0.6</text>
<text x="234.8" y="215" font-family="Liberation Sans, sans-serif" font-size="11.6" text-anchor="end" letter-spacing="-0.85" fill="#000" stroke="#000" stroke-width="0.18">0.4</text>
<text x="234.8" y="245.8" font-family="Liberation Sans, sans-serif" font-size="11.6" text-anchor="end" letter-spacing="-0.85" fill="#000" stroke="#000" stroke-width="0.18">0.2</text>
<text x="230.6" y="287.3" font-family="Liberation Sans, sans-serif" font-size="11.6" text-anchor="middle" letter-spacing="-0.85" fill="#000" stroke="#000" stroke-width="0.18">0.0</text>
<text x="274.8" y="289.4" font-family="Liberation Sans, sans-serif" font-size="11.6" text-anchor="middle" letter-spacing="-0.85" fill="#000" stroke="#000" stroke-width="0.18">0.2</text>
<text x="309.8" y="287.3" font-family="Liberation Sans, sans-serif" font-size="11.6" text-anchor="middle" letter-spacing="-0.85" fill="#000" stroke="#000" stroke-width="0.18">0.4</text>
<text x="349" y="287.3" font-family="Liberation Sans, sans-serif" font-size="11.6" text-anchor="middle" letter-spacing="-0.85" fill="#000" stroke="#000" stroke-width="0.18">0.6</text>
<text x="208.6" y="171.4" font-family="Liberation Sans, sans-serif" font-size="12.5" fill="#000">d</text>
<text transform="translate(304.3,299.1) scale(1.1,1)" font-family="Liberation Serif, serif" font-size="12.6" text-anchor="middle" letter-spacing="0.25" fill="#000"><tspan font-style="italic">K</tspan>/2<tspan font-style="italic">q</tspan><tspan font-style="italic" font-size="8.82" dy="2.2">F</tspan></text>
<text transform="translate(217.3,218.5) rotate(-90)" font-family="Liberation Serif, serif" font-size="13.4" text-anchor="middle" fill="#000"><tspan font-style="italic">Q</tspan>/2<tspan font-style="italic">q</tspan><tspan font-style="italic" font-size="8.5" dy="2">F</tspan></text>
<rect x="362.3" y="155.5" width="3.6" height="5.24" fill="#ff0000"/>
<rect x="362.3" y="160.44" width="3.6" height="5.24" fill="#ff3200"/>
<rect x="362.3" y="165.38" width="3.6" height="5.24" fill="#ff6400"/>
<rect x="362.3" y="170.31" width="3.6" height="5.24" fill="#ff9600"/>
<rect x="362.3" y="175.25" width="3.6" height="5.24" fill="#ffc900"/>
<rect x="362.3" y="180.19" width="3.6" height="5.24" fill="#fffb00"/>
<rect x="362.3" y="185.12" width="3.6" height="5.24" fill="#d0ff00"/>
<rect x="362.3" y="190.06" width="3.6" height="5.24" fill="#9eff00"/>
<rect x="362.3" y="195" width="3.6" height="5.24" fill="#6bff00"/>
<rect x="362.3" y="199.94" width="3.6" height="5.24" fill="#39ff00"/>
<rect x="362.3" y="204.88" width="3.6" height="5.24" fill="#07ff00"/>
<rect x="362.3" y="209.81" width="3.6" height="5.24" fill="#00ff2a"/>
<rect x="362.3" y="214.75" width="3.6" height="5.24" fill="#00ff5d"/>
<rect x="362.3" y="219.69" width="3.6" height="5.24" fill="#00ff8f"/>
<rect x="362.3" y="224.62" width="3.6" height="5.24" fill="#00ffc1"/>
<rect x="362.3" y="229.56" width="3.6" height="5.24" fill="#00fff3"/>
<rect x="362.3" y="234.5" width="3.6" height="5.24" fill="#00d7ff"/>
<rect x="362.3" y="239.44" width="3.6" height="5.24" fill="#00a5ff"/>
<rect x="362.3" y="244.38" width="3.6" height="5.24" fill="#0073ff"/>
<rect x="362.3" y="249.31" width="3.6" height="5.24" fill="#0041ff"/>
<rect x="362.3" y="254.25" width="3.6" height="5.24" fill="#000eff"/>
<rect x="362.3" y="259.19" width="3.6" height="5.24" fill="#2300ff"/>
<rect x="362.3" y="264.12" width="3.6" height="5.24" fill="#5500ff"/>
<rect x="362.3" y="269.06" width="3.6" height="5.24" fill="#8700ff"/>
<text x="400" y="165.4" font-family="Liberation Sans, sans-serif" font-size="11.6" text-anchor="end" letter-spacing="-0.85" fill="#000" stroke="#000" stroke-width="0.18">0.010</text>
<text x="400" y="184.1" font-family="Liberation Sans, sans-serif" font-size="11.6" text-anchor="end" letter-spacing="-0.85" fill="#000" stroke="#000" stroke-width="0.18">0.005</text>
<text x="400" y="204.8" font-family="Liberation Sans, sans-serif" font-size="11.6" text-anchor="end" letter-spacing="-0.85" fill="#000" stroke="#000" stroke-width="0.18">0.000</text>
<text x="400" y="224.7" font-family="Liberation Sans, sans-serif" font-size="11.6" text-anchor="end" letter-spacing="-0.85" fill="#000" stroke="#000" stroke-width="0.18">0.005</text>
<text x="400" y="244.5" font-family="Liberation Sans, sans-serif" font-size="11.6" text-anchor="end" letter-spacing="-0.85" fill="#000" stroke="#000" stroke-width="0.18">0.010</text>
<text x="400" y="264.1" font-family="Liberation Sans, sans-serif" font-size="11.6" text-anchor="end" letter-spacing="-0.85" fill="#000" stroke="#000" stroke-width="0.18">0.015</text>
<path d="M360.2 201.3 h11.2" stroke="#333" stroke-width="0.7" fill="none"/>
<path d="M370.6 221.5 h2.9M370.6 241.3 h2.9M370.6 260.9 h2.9" stroke="#111" stroke-width="0.9" fill="none"/>
<text transform="translate(404.6,216) rotate(90)" font-family="Liberation Serif, serif" font-size="12.5" text-anchor="middle" letter-spacing="0.45" fill="#000">2<tspan font-style="italic">π</tspan>[<tspan font-style="italic">F</tspan><tspan letter-spacing="1.5"> − </tspan><tspan font-style="italic">F</tspan><tspan font-style="italic" font-size="8" dy="2">FM</tspan><tspan dy="-2">]</tspan><tspan font-style="italic">μ</tspan><tspan font-size="8" dy="-4">3</tspan><tspan dy="4">/(</tspan><tspan font-style="italic">J</tspan><tspan font-size="8" dy="-4">4</tspan><tspan dy="4" font-style="italic">q</tspan><tspan font-size="8" dy="-4">2</tspan><tspan font-size="8" dy="7" dx="-4" font-style="italic">F</tspan><tspan dy="-3">)</tspan></text>
</svg>
</body></html>
